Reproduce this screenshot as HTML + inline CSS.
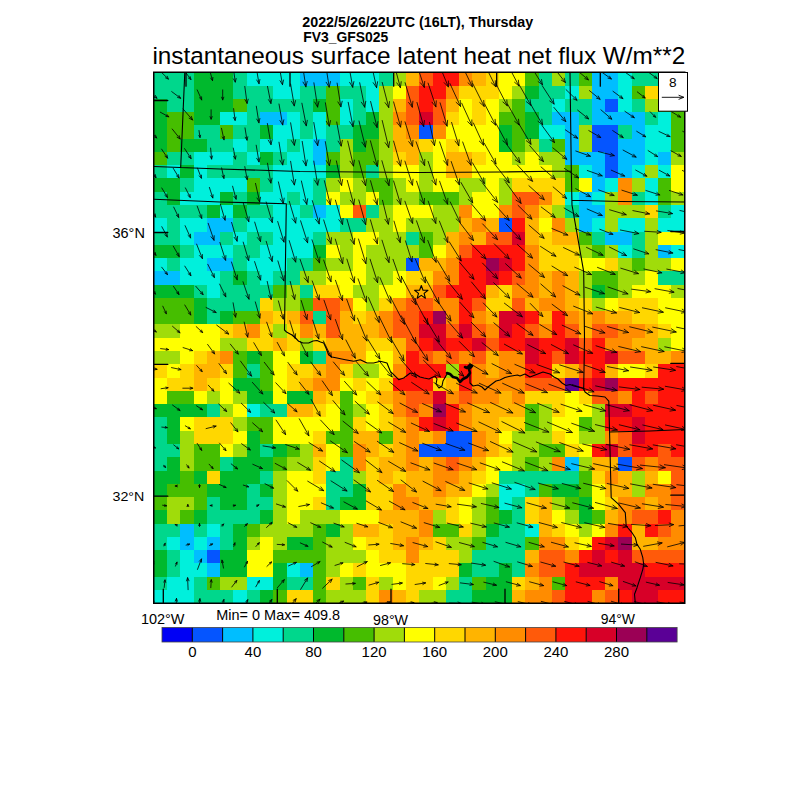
<!DOCTYPE html>
<html><head><meta charset="utf-8"><style>
html,body{margin:0;padding:0;background:#fff;}
svg{display:block;font-family:"Liberation Sans",sans-serif;}
</style></head><body>
<svg width="800" height="800" viewBox="0 0 800 800">
<rect x="0" y="0" width="800" height="800" fill="#fff"/>
<g shape-rendering="crispEdges">
<rect x="153.75" y="72.25" width="40.12" height="13.58" fill="#00d78c"/>
<rect x="193.57" y="72.25" width="40.12" height="13.58" fill="#00b92d"/>
<rect x="233.40" y="72.25" width="13.58" height="13.58" fill="#00d78c"/>
<rect x="246.68" y="72.25" width="53.40" height="13.58" fill="#00f0dc"/>
<rect x="299.77" y="72.25" width="40.12" height="13.58" fill="#00beff"/>
<rect x="339.60" y="72.25" width="40.12" height="13.58" fill="#00f0dc"/>
<rect x="379.43" y="72.25" width="13.58" height="13.58" fill="#00d78c"/>
<rect x="392.70" y="72.25" width="13.58" height="13.58" fill="#a0dc0a"/>
<rect x="405.98" y="72.25" width="13.58" height="13.58" fill="#ffb400"/>
<rect x="419.25" y="72.25" width="13.58" height="13.58" fill="#ff5a0a"/>
<rect x="432.53" y="72.25" width="26.85" height="13.58" fill="#ff140a"/>
<rect x="459.07" y="72.25" width="13.58" height="13.58" fill="#ff8c00"/>
<rect x="472.35" y="72.25" width="13.58" height="13.58" fill="#ffb400"/>
<rect x="485.62" y="72.25" width="13.58" height="13.58" fill="#ffd700"/>
<rect x="498.90" y="72.25" width="26.85" height="13.58" fill="#ffff00"/>
<rect x="525.45" y="72.25" width="13.58" height="13.58" fill="#46be00"/>
<rect x="538.73" y="72.25" width="13.58" height="13.58" fill="#00d78c"/>
<rect x="552.00" y="72.25" width="13.58" height="13.58" fill="#a0dc0a"/>
<rect x="565.28" y="72.25" width="13.58" height="13.58" fill="#00d78c"/>
<rect x="578.55" y="72.25" width="13.58" height="13.58" fill="#46be00"/>
<rect x="591.83" y="72.25" width="26.85" height="13.58" fill="#00beff"/>
<rect x="618.38" y="72.25" width="13.58" height="13.58" fill="#00f0dc"/>
<rect x="631.65" y="72.25" width="53.40" height="13.58" fill="#00d78c"/>
<rect x="153.75" y="85.53" width="40.12" height="13.58" fill="#00d78c"/>
<rect x="193.57" y="85.53" width="40.12" height="13.58" fill="#00b92d"/>
<rect x="233.40" y="85.53" width="40.12" height="13.58" fill="#00d78c"/>
<rect x="273.23" y="85.53" width="26.85" height="13.58" fill="#00f0dc"/>
<rect x="299.77" y="85.53" width="26.85" height="13.58" fill="#00d78c"/>
<rect x="326.33" y="85.53" width="13.58" height="13.58" fill="#46be00"/>
<rect x="339.60" y="85.53" width="26.85" height="13.58" fill="#00d78c"/>
<rect x="366.15" y="85.53" width="13.58" height="13.58" fill="#00f0dc"/>
<rect x="379.43" y="85.53" width="13.58" height="13.58" fill="#a0dc0a"/>
<rect x="392.70" y="85.53" width="13.58" height="13.58" fill="#ffff00"/>
<rect x="405.98" y="85.53" width="13.58" height="13.58" fill="#ff5a0a"/>
<rect x="419.25" y="85.53" width="26.85" height="13.58" fill="#ff140a"/>
<rect x="445.80" y="85.53" width="13.58" height="13.58" fill="#ff8c00"/>
<rect x="459.07" y="85.53" width="40.12" height="13.58" fill="#ffd700"/>
<rect x="498.90" y="85.53" width="13.58" height="13.58" fill="#ffff00"/>
<rect x="512.17" y="85.53" width="13.58" height="13.58" fill="#a0dc0a"/>
<rect x="525.45" y="85.53" width="13.58" height="13.58" fill="#00b92d"/>
<rect x="538.73" y="85.53" width="26.85" height="13.58" fill="#00d78c"/>
<rect x="565.28" y="85.53" width="13.58" height="13.58" fill="#00f0dc"/>
<rect x="578.55" y="85.53" width="13.58" height="13.58" fill="#a0dc0a"/>
<rect x="591.83" y="85.53" width="26.85" height="13.58" fill="#00beff"/>
<rect x="618.38" y="85.53" width="13.58" height="13.58" fill="#00f0dc"/>
<rect x="631.65" y="85.53" width="13.58" height="13.58" fill="#46be00"/>
<rect x="644.92" y="85.53" width="13.58" height="13.58" fill="#ffd700"/>
<rect x="658.20" y="85.53" width="26.85" height="13.58" fill="#00d78c"/>
<rect x="153.75" y="98.80" width="13.58" height="13.58" fill="#00b92d"/>
<rect x="167.03" y="98.80" width="26.85" height="13.58" fill="#00d78c"/>
<rect x="193.57" y="98.80" width="40.12" height="13.58" fill="#00b92d"/>
<rect x="233.40" y="98.80" width="13.58" height="13.58" fill="#46be00"/>
<rect x="246.68" y="98.80" width="66.67" height="13.58" fill="#00d78c"/>
<rect x="313.05" y="98.80" width="13.58" height="13.58" fill="#00b92d"/>
<rect x="326.33" y="98.80" width="13.58" height="13.58" fill="#46be00"/>
<rect x="339.60" y="98.80" width="13.58" height="13.58" fill="#00f0dc"/>
<rect x="352.88" y="98.80" width="13.58" height="13.58" fill="#00d78c"/>
<rect x="366.15" y="98.80" width="13.58" height="13.58" fill="#00f0dc"/>
<rect x="379.43" y="98.80" width="13.58" height="13.58" fill="#a0dc0a"/>
<rect x="392.70" y="98.80" width="13.58" height="13.58" fill="#ffb400"/>
<rect x="405.98" y="98.80" width="13.58" height="13.58" fill="#ff5a0a"/>
<rect x="419.25" y="98.80" width="13.58" height="13.58" fill="#ff140a"/>
<rect x="432.53" y="98.80" width="13.58" height="13.58" fill="#ff5a0a"/>
<rect x="445.80" y="98.80" width="13.58" height="13.58" fill="#ffb400"/>
<rect x="459.07" y="98.80" width="13.58" height="13.58" fill="#ffff00"/>
<rect x="472.35" y="98.80" width="13.58" height="13.58" fill="#ffd700"/>
<rect x="485.62" y="98.80" width="13.58" height="13.58" fill="#ffff00"/>
<rect x="498.90" y="98.80" width="13.58" height="13.58" fill="#a0dc0a"/>
<rect x="512.17" y="98.80" width="13.58" height="13.58" fill="#46be00"/>
<rect x="525.45" y="98.80" width="26.85" height="13.58" fill="#00d78c"/>
<rect x="552.00" y="98.80" width="13.58" height="13.58" fill="#00f0dc"/>
<rect x="565.28" y="98.80" width="26.85" height="13.58" fill="#00d78c"/>
<rect x="591.83" y="98.80" width="13.58" height="13.58" fill="#00beff"/>
<rect x="605.10" y="98.80" width="13.58" height="13.58" fill="#0555ff"/>
<rect x="618.38" y="98.80" width="13.58" height="13.58" fill="#00f0dc"/>
<rect x="631.65" y="98.80" width="13.58" height="13.58" fill="#00d78c"/>
<rect x="644.92" y="98.80" width="13.58" height="13.58" fill="#a0dc0a"/>
<rect x="658.20" y="98.80" width="26.85" height="13.58" fill="#46be00"/>
<rect x="153.75" y="112.08" width="13.58" height="13.58" fill="#00b92d"/>
<rect x="167.03" y="112.08" width="26.85" height="13.58" fill="#46be00"/>
<rect x="193.57" y="112.08" width="26.85" height="13.58" fill="#00b92d"/>
<rect x="220.12" y="112.08" width="26.85" height="13.58" fill="#00f0dc"/>
<rect x="246.68" y="112.08" width="13.58" height="13.58" fill="#00d78c"/>
<rect x="259.95" y="112.08" width="26.85" height="13.58" fill="#00beff"/>
<rect x="286.50" y="112.08" width="13.58" height="13.58" fill="#00f0dc"/>
<rect x="299.77" y="112.08" width="13.58" height="13.58" fill="#00d78c"/>
<rect x="313.05" y="112.08" width="13.58" height="13.58" fill="#00f0dc"/>
<rect x="326.33" y="112.08" width="13.58" height="13.58" fill="#46be00"/>
<rect x="339.60" y="112.08" width="13.58" height="13.58" fill="#00f0dc"/>
<rect x="352.88" y="112.08" width="13.58" height="13.58" fill="#00d78c"/>
<rect x="366.15" y="112.08" width="13.58" height="13.58" fill="#00b92d"/>
<rect x="379.43" y="112.08" width="13.58" height="13.58" fill="#a0dc0a"/>
<rect x="392.70" y="112.08" width="13.58" height="13.58" fill="#ff8c00"/>
<rect x="405.98" y="112.08" width="13.58" height="13.58" fill="#ff5a0a"/>
<rect x="419.25" y="112.08" width="13.58" height="13.58" fill="#d70028"/>
<rect x="432.53" y="112.08" width="13.58" height="13.58" fill="#ff5a0a"/>
<rect x="445.80" y="112.08" width="13.58" height="13.58" fill="#ffd700"/>
<rect x="459.07" y="112.08" width="13.58" height="13.58" fill="#ffff00"/>
<rect x="472.35" y="112.08" width="13.58" height="13.58" fill="#ffd700"/>
<rect x="485.62" y="112.08" width="13.58" height="13.58" fill="#ffff00"/>
<rect x="498.90" y="112.08" width="26.85" height="13.58" fill="#46be00"/>
<rect x="525.45" y="112.08" width="13.58" height="13.58" fill="#00b92d"/>
<rect x="538.73" y="112.08" width="13.58" height="13.58" fill="#00d78c"/>
<rect x="552.00" y="112.08" width="26.85" height="13.58" fill="#00beff"/>
<rect x="578.55" y="112.08" width="13.58" height="13.58" fill="#00d78c"/>
<rect x="591.83" y="112.08" width="53.40" height="13.58" fill="#00beff"/>
<rect x="644.92" y="112.08" width="13.58" height="13.58" fill="#00d78c"/>
<rect x="658.20" y="112.08" width="13.58" height="13.58" fill="#00f0dc"/>
<rect x="671.48" y="112.08" width="13.58" height="13.58" fill="#46be00"/>
<rect x="153.75" y="125.35" width="13.58" height="13.58" fill="#00b92d"/>
<rect x="167.03" y="125.35" width="26.85" height="13.58" fill="#46be00"/>
<rect x="193.57" y="125.35" width="26.85" height="13.58" fill="#00d78c"/>
<rect x="220.12" y="125.35" width="13.58" height="13.58" fill="#46be00"/>
<rect x="233.40" y="125.35" width="26.85" height="13.58" fill="#00d78c"/>
<rect x="259.95" y="125.35" width="13.58" height="13.58" fill="#00b92d"/>
<rect x="273.23" y="125.35" width="26.85" height="13.58" fill="#00f0dc"/>
<rect x="299.77" y="125.35" width="13.58" height="13.58" fill="#00d78c"/>
<rect x="313.05" y="125.35" width="13.58" height="13.58" fill="#00f0dc"/>
<rect x="326.33" y="125.35" width="26.85" height="13.58" fill="#00d78c"/>
<rect x="352.88" y="125.35" width="26.85" height="13.58" fill="#00b92d"/>
<rect x="379.43" y="125.35" width="13.58" height="13.58" fill="#a0dc0a"/>
<rect x="392.70" y="125.35" width="13.58" height="13.58" fill="#ffb400"/>
<rect x="405.98" y="125.35" width="13.58" height="13.58" fill="#ff8c00"/>
<rect x="419.25" y="125.35" width="13.58" height="13.58" fill="#0555ff"/>
<rect x="432.53" y="125.35" width="13.58" height="13.58" fill="#ff8c00"/>
<rect x="445.80" y="125.35" width="53.40" height="13.58" fill="#ffff00"/>
<rect x="498.90" y="125.35" width="13.58" height="13.58" fill="#00b92d"/>
<rect x="512.17" y="125.35" width="13.58" height="13.58" fill="#46be00"/>
<rect x="525.45" y="125.35" width="13.58" height="13.58" fill="#00b92d"/>
<rect x="538.73" y="125.35" width="26.85" height="13.58" fill="#00f0dc"/>
<rect x="565.28" y="125.35" width="13.58" height="13.58" fill="#00beff"/>
<rect x="578.55" y="125.35" width="13.58" height="13.58" fill="#a0dc0a"/>
<rect x="591.83" y="125.35" width="26.85" height="13.58" fill="#0555ff"/>
<rect x="618.38" y="125.35" width="13.58" height="13.58" fill="#00d78c"/>
<rect x="631.65" y="125.35" width="13.58" height="13.58" fill="#00beff"/>
<rect x="644.92" y="125.35" width="26.85" height="13.58" fill="#00f0dc"/>
<rect x="671.48" y="125.35" width="13.58" height="13.58" fill="#46be00"/>
<rect x="153.75" y="138.62" width="13.58" height="13.58" fill="#00b92d"/>
<rect x="167.03" y="138.62" width="13.58" height="13.58" fill="#46be00"/>
<rect x="180.30" y="138.62" width="26.85" height="13.58" fill="#00b92d"/>
<rect x="206.85" y="138.62" width="26.85" height="13.58" fill="#00d78c"/>
<rect x="233.40" y="138.62" width="13.58" height="13.58" fill="#00f0dc"/>
<rect x="246.68" y="138.62" width="13.58" height="13.58" fill="#00d78c"/>
<rect x="259.95" y="138.62" width="26.85" height="13.58" fill="#00f0dc"/>
<rect x="286.50" y="138.62" width="13.58" height="13.58" fill="#00d78c"/>
<rect x="299.77" y="138.62" width="13.58" height="13.58" fill="#00f0dc"/>
<rect x="313.05" y="138.62" width="13.58" height="13.58" fill="#00beff"/>
<rect x="326.33" y="138.62" width="13.58" height="13.58" fill="#00d78c"/>
<rect x="339.60" y="138.62" width="13.58" height="13.58" fill="#a0dc0a"/>
<rect x="352.88" y="138.62" width="13.58" height="13.58" fill="#00b92d"/>
<rect x="366.15" y="138.62" width="13.58" height="13.58" fill="#46be00"/>
<rect x="379.43" y="138.62" width="13.58" height="13.58" fill="#a0dc0a"/>
<rect x="392.70" y="138.62" width="26.85" height="13.58" fill="#ffb400"/>
<rect x="419.25" y="138.62" width="13.58" height="13.58" fill="#ffd700"/>
<rect x="432.53" y="138.62" width="13.58" height="13.58" fill="#ffff00"/>
<rect x="445.80" y="138.62" width="13.58" height="13.58" fill="#ffd700"/>
<rect x="459.07" y="138.62" width="40.12" height="13.58" fill="#ffff00"/>
<rect x="498.90" y="138.62" width="13.58" height="13.58" fill="#00b92d"/>
<rect x="512.17" y="138.62" width="13.58" height="13.58" fill="#46be00"/>
<rect x="525.45" y="138.62" width="13.58" height="13.58" fill="#a0dc0a"/>
<rect x="538.73" y="138.62" width="13.58" height="13.58" fill="#00d78c"/>
<rect x="552.00" y="138.62" width="13.58" height="13.58" fill="#46be00"/>
<rect x="565.28" y="138.62" width="13.58" height="13.58" fill="#00beff"/>
<rect x="578.55" y="138.62" width="13.58" height="13.58" fill="#a0dc0a"/>
<rect x="591.83" y="138.62" width="26.85" height="13.58" fill="#0555ff"/>
<rect x="618.38" y="138.62" width="26.85" height="13.58" fill="#00beff"/>
<rect x="644.92" y="138.62" width="26.85" height="13.58" fill="#00f0dc"/>
<rect x="671.48" y="138.62" width="13.58" height="13.58" fill="#46be00"/>
<rect x="153.75" y="151.90" width="13.58" height="13.58" fill="#46be00"/>
<rect x="167.03" y="151.90" width="26.85" height="13.58" fill="#00d78c"/>
<rect x="193.57" y="151.90" width="40.12" height="13.58" fill="#00f0dc"/>
<rect x="233.40" y="151.90" width="13.58" height="13.58" fill="#00d78c"/>
<rect x="246.68" y="151.90" width="13.58" height="13.58" fill="#00f0dc"/>
<rect x="259.95" y="151.90" width="13.58" height="13.58" fill="#00b92d"/>
<rect x="273.23" y="151.90" width="13.58" height="13.58" fill="#00d78c"/>
<rect x="286.50" y="151.90" width="26.85" height="13.58" fill="#00f0dc"/>
<rect x="313.05" y="151.90" width="13.58" height="13.58" fill="#00beff"/>
<rect x="326.33" y="151.90" width="13.58" height="13.58" fill="#46be00"/>
<rect x="339.60" y="151.90" width="13.58" height="13.58" fill="#a0dc0a"/>
<rect x="352.88" y="151.90" width="26.85" height="13.58" fill="#46be00"/>
<rect x="379.43" y="151.90" width="13.58" height="13.58" fill="#a0dc0a"/>
<rect x="392.70" y="151.90" width="13.58" height="13.58" fill="#ffd700"/>
<rect x="405.98" y="151.90" width="13.58" height="13.58" fill="#ffb400"/>
<rect x="419.25" y="151.90" width="13.58" height="13.58" fill="#a0dc0a"/>
<rect x="432.53" y="151.90" width="13.58" height="13.58" fill="#ffff00"/>
<rect x="445.80" y="151.90" width="26.85" height="13.58" fill="#ffb400"/>
<rect x="472.35" y="151.90" width="13.58" height="13.58" fill="#ffd700"/>
<rect x="485.62" y="151.90" width="26.85" height="13.58" fill="#ffff00"/>
<rect x="512.17" y="151.90" width="13.58" height="13.58" fill="#a0dc0a"/>
<rect x="525.45" y="151.90" width="13.58" height="13.58" fill="#ffff00"/>
<rect x="538.73" y="151.90" width="26.85" height="13.58" fill="#a0dc0a"/>
<rect x="565.28" y="151.90" width="40.12" height="13.58" fill="#00beff"/>
<rect x="605.10" y="151.90" width="13.58" height="13.58" fill="#0555ff"/>
<rect x="618.38" y="151.90" width="26.85" height="13.58" fill="#00beff"/>
<rect x="644.92" y="151.90" width="13.58" height="13.58" fill="#00f0dc"/>
<rect x="658.20" y="151.90" width="13.58" height="13.58" fill="#00beff"/>
<rect x="671.48" y="151.90" width="13.58" height="13.58" fill="#a0dc0a"/>
<rect x="153.75" y="165.18" width="13.58" height="13.58" fill="#00d78c"/>
<rect x="167.03" y="165.18" width="13.58" height="13.58" fill="#00f0dc"/>
<rect x="180.30" y="165.18" width="13.58" height="13.58" fill="#00b92d"/>
<rect x="193.57" y="165.18" width="13.58" height="13.58" fill="#00f0dc"/>
<rect x="206.85" y="165.18" width="66.67" height="13.58" fill="#00d78c"/>
<rect x="273.23" y="165.18" width="53.40" height="13.58" fill="#00f0dc"/>
<rect x="326.33" y="165.18" width="13.58" height="13.58" fill="#00b92d"/>
<rect x="339.60" y="165.18" width="13.58" height="13.58" fill="#a0dc0a"/>
<rect x="352.88" y="165.18" width="13.58" height="13.58" fill="#46be00"/>
<rect x="366.15" y="165.18" width="13.58" height="13.58" fill="#00d78c"/>
<rect x="379.43" y="165.18" width="13.58" height="13.58" fill="#a0dc0a"/>
<rect x="392.70" y="165.18" width="26.85" height="13.58" fill="#ffff00"/>
<rect x="419.25" y="165.18" width="13.58" height="13.58" fill="#a0dc0a"/>
<rect x="432.53" y="165.18" width="13.58" height="13.58" fill="#ffff00"/>
<rect x="445.80" y="165.18" width="26.85" height="13.58" fill="#ffb400"/>
<rect x="472.35" y="165.18" width="79.95" height="13.58" fill="#ffff00"/>
<rect x="552.00" y="165.18" width="13.58" height="13.58" fill="#a0dc0a"/>
<rect x="565.28" y="165.18" width="13.58" height="13.58" fill="#46be00"/>
<rect x="578.55" y="165.18" width="13.58" height="13.58" fill="#00f0dc"/>
<rect x="591.83" y="165.18" width="13.58" height="13.58" fill="#00beff"/>
<rect x="605.10" y="165.18" width="13.58" height="13.58" fill="#0555ff"/>
<rect x="618.38" y="165.18" width="13.58" height="13.58" fill="#00beff"/>
<rect x="631.65" y="165.18" width="13.58" height="13.58" fill="#00f0dc"/>
<rect x="644.92" y="165.18" width="13.58" height="13.58" fill="#a0dc0a"/>
<rect x="658.20" y="165.18" width="13.58" height="13.58" fill="#00f0dc"/>
<rect x="671.48" y="165.18" width="13.58" height="13.58" fill="#ffff00"/>
<rect x="153.75" y="178.45" width="26.85" height="13.58" fill="#00b92d"/>
<rect x="180.30" y="178.45" width="13.58" height="13.58" fill="#00d78c"/>
<rect x="193.57" y="178.45" width="53.40" height="13.58" fill="#00f0dc"/>
<rect x="246.68" y="178.45" width="13.58" height="13.58" fill="#46be00"/>
<rect x="259.95" y="178.45" width="13.58" height="13.58" fill="#00d78c"/>
<rect x="273.23" y="178.45" width="40.12" height="13.58" fill="#00f0dc"/>
<rect x="313.05" y="178.45" width="13.58" height="13.58" fill="#00d78c"/>
<rect x="326.33" y="178.45" width="13.58" height="13.58" fill="#a0dc0a"/>
<rect x="339.60" y="178.45" width="13.58" height="13.58" fill="#ffff00"/>
<rect x="352.88" y="178.45" width="13.58" height="13.58" fill="#a0dc0a"/>
<rect x="366.15" y="178.45" width="26.85" height="13.58" fill="#46be00"/>
<rect x="392.70" y="178.45" width="13.58" height="13.58" fill="#a0dc0a"/>
<rect x="405.98" y="178.45" width="13.58" height="13.58" fill="#ffff00"/>
<rect x="419.25" y="178.45" width="13.58" height="13.58" fill="#a0dc0a"/>
<rect x="432.53" y="178.45" width="26.85" height="13.58" fill="#ffff00"/>
<rect x="459.07" y="178.45" width="26.85" height="13.58" fill="#a0dc0a"/>
<rect x="485.62" y="178.45" width="13.58" height="13.58" fill="#ffff00"/>
<rect x="498.90" y="178.45" width="13.58" height="13.58" fill="#a0dc0a"/>
<rect x="512.17" y="178.45" width="53.40" height="13.58" fill="#ffd700"/>
<rect x="565.28" y="178.45" width="13.58" height="13.58" fill="#46be00"/>
<rect x="578.55" y="178.45" width="13.58" height="13.58" fill="#ffff00"/>
<rect x="591.83" y="178.45" width="13.58" height="13.58" fill="#00beff"/>
<rect x="605.10" y="178.45" width="13.58" height="13.58" fill="#00f0dc"/>
<rect x="618.38" y="178.45" width="13.58" height="13.58" fill="#ff8c00"/>
<rect x="631.65" y="178.45" width="13.58" height="13.58" fill="#a0dc0a"/>
<rect x="644.92" y="178.45" width="13.58" height="13.58" fill="#00f0dc"/>
<rect x="658.20" y="178.45" width="13.58" height="13.58" fill="#46be00"/>
<rect x="671.48" y="178.45" width="13.58" height="13.58" fill="#ffff00"/>
<rect x="153.75" y="191.73" width="13.58" height="13.58" fill="#00d78c"/>
<rect x="167.03" y="191.73" width="13.58" height="13.58" fill="#00b92d"/>
<rect x="180.30" y="191.73" width="40.12" height="13.58" fill="#00f0dc"/>
<rect x="220.12" y="191.73" width="13.58" height="13.58" fill="#00b92d"/>
<rect x="233.40" y="191.73" width="13.58" height="13.58" fill="#00d78c"/>
<rect x="246.68" y="191.73" width="13.58" height="13.58" fill="#00b92d"/>
<rect x="259.95" y="191.73" width="26.85" height="13.58" fill="#00f0dc"/>
<rect x="286.50" y="191.73" width="13.58" height="13.58" fill="#00d78c"/>
<rect x="299.77" y="191.73" width="13.58" height="13.58" fill="#00f0dc"/>
<rect x="313.05" y="191.73" width="13.58" height="13.58" fill="#00d78c"/>
<rect x="326.33" y="191.73" width="13.58" height="13.58" fill="#ffff00"/>
<rect x="339.60" y="191.73" width="26.85" height="13.58" fill="#a0dc0a"/>
<rect x="366.15" y="191.73" width="13.58" height="13.58" fill="#ffff00"/>
<rect x="379.43" y="191.73" width="13.58" height="13.58" fill="#46be00"/>
<rect x="392.70" y="191.73" width="26.85" height="13.58" fill="#a0dc0a"/>
<rect x="419.25" y="191.73" width="40.12" height="13.58" fill="#46be00"/>
<rect x="459.07" y="191.73" width="13.58" height="13.58" fill="#a0dc0a"/>
<rect x="472.35" y="191.73" width="26.85" height="13.58" fill="#ffff00"/>
<rect x="498.90" y="191.73" width="13.58" height="13.58" fill="#a0dc0a"/>
<rect x="512.17" y="191.73" width="26.85" height="13.58" fill="#ff5a0a"/>
<rect x="538.73" y="191.73" width="13.58" height="13.58" fill="#ff8c00"/>
<rect x="552.00" y="191.73" width="13.58" height="13.58" fill="#ffd700"/>
<rect x="565.28" y="191.73" width="13.58" height="13.58" fill="#00f0dc"/>
<rect x="578.55" y="191.73" width="13.58" height="13.58" fill="#00beff"/>
<rect x="591.83" y="191.73" width="13.58" height="13.58" fill="#00f0dc"/>
<rect x="605.10" y="191.73" width="13.58" height="13.58" fill="#a0dc0a"/>
<rect x="618.38" y="191.73" width="13.58" height="13.58" fill="#ff8c00"/>
<rect x="631.65" y="191.73" width="13.58" height="13.58" fill="#00d78c"/>
<rect x="644.92" y="191.73" width="13.58" height="13.58" fill="#00f0dc"/>
<rect x="658.20" y="191.73" width="13.58" height="13.58" fill="#46be00"/>
<rect x="671.48" y="191.73" width="13.58" height="13.58" fill="#a0dc0a"/>
<rect x="153.75" y="205.00" width="53.40" height="13.58" fill="#00d78c"/>
<rect x="206.85" y="205.00" width="13.58" height="13.58" fill="#00b92d"/>
<rect x="220.12" y="205.00" width="13.58" height="13.58" fill="#00f0dc"/>
<rect x="233.40" y="205.00" width="13.58" height="13.58" fill="#00b92d"/>
<rect x="246.68" y="205.00" width="26.85" height="13.58" fill="#00d78c"/>
<rect x="273.23" y="205.00" width="26.85" height="13.58" fill="#00f0dc"/>
<rect x="299.77" y="205.00" width="13.58" height="13.58" fill="#00d78c"/>
<rect x="313.05" y="205.00" width="13.58" height="13.58" fill="#00beff"/>
<rect x="326.33" y="205.00" width="13.58" height="13.58" fill="#00f0dc"/>
<rect x="339.60" y="205.00" width="13.58" height="13.58" fill="#ffff00"/>
<rect x="352.88" y="205.00" width="13.58" height="13.58" fill="#ff5a0a"/>
<rect x="366.15" y="205.00" width="13.58" height="13.58" fill="#00d78c"/>
<rect x="379.43" y="205.00" width="13.58" height="13.58" fill="#a0dc0a"/>
<rect x="392.70" y="205.00" width="40.12" height="13.58" fill="#ffff00"/>
<rect x="432.53" y="205.00" width="26.85" height="13.58" fill="#a0dc0a"/>
<rect x="459.07" y="205.00" width="13.58" height="13.58" fill="#ff8c00"/>
<rect x="472.35" y="205.00" width="26.85" height="13.58" fill="#ffff00"/>
<rect x="498.90" y="205.00" width="13.58" height="13.58" fill="#ff8c00"/>
<rect x="512.17" y="205.00" width="13.58" height="13.58" fill="#ff5a0a"/>
<rect x="525.45" y="205.00" width="13.58" height="13.58" fill="#ff8c00"/>
<rect x="538.73" y="205.00" width="13.58" height="13.58" fill="#ffd700"/>
<rect x="552.00" y="205.00" width="13.58" height="13.58" fill="#a0dc0a"/>
<rect x="565.28" y="205.00" width="13.58" height="13.58" fill="#00d78c"/>
<rect x="578.55" y="205.00" width="26.85" height="13.58" fill="#00beff"/>
<rect x="605.10" y="205.00" width="40.12" height="13.58" fill="#a0dc0a"/>
<rect x="644.92" y="205.00" width="13.58" height="13.58" fill="#ffd700"/>
<rect x="658.20" y="205.00" width="13.58" height="13.58" fill="#00d78c"/>
<rect x="671.48" y="205.00" width="13.58" height="13.58" fill="#00f0dc"/>
<rect x="153.75" y="218.28" width="13.58" height="13.58" fill="#00f0dc"/>
<rect x="167.03" y="218.28" width="13.58" height="13.58" fill="#00d78c"/>
<rect x="180.30" y="218.28" width="26.85" height="13.58" fill="#00f0dc"/>
<rect x="206.85" y="218.28" width="26.85" height="13.58" fill="#00beff"/>
<rect x="233.40" y="218.28" width="13.58" height="13.58" fill="#00d78c"/>
<rect x="246.68" y="218.28" width="93.22" height="13.58" fill="#00f0dc"/>
<rect x="339.60" y="218.28" width="26.85" height="13.58" fill="#00d78c"/>
<rect x="366.15" y="218.28" width="26.85" height="13.58" fill="#a0dc0a"/>
<rect x="392.70" y="218.28" width="13.58" height="13.58" fill="#ffff00"/>
<rect x="405.98" y="218.28" width="53.40" height="13.58" fill="#a0dc0a"/>
<rect x="459.07" y="218.28" width="13.58" height="13.58" fill="#ffb400"/>
<rect x="472.35" y="218.28" width="13.58" height="13.58" fill="#ff8c00"/>
<rect x="485.62" y="218.28" width="13.58" height="13.58" fill="#ffb400"/>
<rect x="498.90" y="218.28" width="13.58" height="13.58" fill="#0555ff"/>
<rect x="512.17" y="218.28" width="13.58" height="13.58" fill="#ff140a"/>
<rect x="525.45" y="218.28" width="13.58" height="13.58" fill="#ffb400"/>
<rect x="538.73" y="218.28" width="13.58" height="13.58" fill="#ffff00"/>
<rect x="552.00" y="218.28" width="13.58" height="13.58" fill="#ff8c00"/>
<rect x="565.28" y="218.28" width="13.58" height="13.58" fill="#a0dc0a"/>
<rect x="578.55" y="218.28" width="13.58" height="13.58" fill="#00beff"/>
<rect x="591.83" y="218.28" width="13.58" height="13.58" fill="#00f0dc"/>
<rect x="605.10" y="218.28" width="13.58" height="13.58" fill="#a0dc0a"/>
<rect x="618.38" y="218.28" width="26.85" height="13.58" fill="#00f0dc"/>
<rect x="644.92" y="218.28" width="13.58" height="13.58" fill="#a0dc0a"/>
<rect x="658.20" y="218.28" width="26.85" height="13.58" fill="#00f0dc"/>
<rect x="153.75" y="231.55" width="26.85" height="13.58" fill="#00d78c"/>
<rect x="180.30" y="231.55" width="13.58" height="13.58" fill="#00f0dc"/>
<rect x="193.57" y="231.55" width="26.85" height="13.58" fill="#00beff"/>
<rect x="220.12" y="231.55" width="13.58" height="13.58" fill="#00d78c"/>
<rect x="233.40" y="231.55" width="13.58" height="13.58" fill="#00f0dc"/>
<rect x="246.68" y="231.55" width="26.85" height="13.58" fill="#00d78c"/>
<rect x="273.23" y="231.55" width="40.12" height="13.58" fill="#00f0dc"/>
<rect x="313.05" y="231.55" width="13.58" height="13.58" fill="#00d78c"/>
<rect x="326.33" y="231.55" width="26.85" height="13.58" fill="#a0dc0a"/>
<rect x="352.88" y="231.55" width="26.85" height="13.58" fill="#ffff00"/>
<rect x="379.43" y="231.55" width="26.85" height="13.58" fill="#a0dc0a"/>
<rect x="405.98" y="231.55" width="13.58" height="13.58" fill="#00d78c"/>
<rect x="419.25" y="231.55" width="13.58" height="13.58" fill="#46be00"/>
<rect x="432.53" y="231.55" width="13.58" height="13.58" fill="#a0dc0a"/>
<rect x="445.80" y="231.55" width="13.58" height="13.58" fill="#ffb400"/>
<rect x="459.07" y="231.55" width="13.58" height="13.58" fill="#ff8c00"/>
<rect x="472.35" y="231.55" width="13.58" height="13.58" fill="#ffb400"/>
<rect x="485.62" y="231.55" width="26.85" height="13.58" fill="#ff5a0a"/>
<rect x="512.17" y="231.55" width="13.58" height="13.58" fill="#d70028"/>
<rect x="525.45" y="231.55" width="13.58" height="13.58" fill="#ffb400"/>
<rect x="538.73" y="231.55" width="13.58" height="13.58" fill="#ffd700"/>
<rect x="552.00" y="231.55" width="26.85" height="13.58" fill="#ffb400"/>
<rect x="578.55" y="231.55" width="13.58" height="13.58" fill="#46be00"/>
<rect x="591.83" y="231.55" width="13.58" height="13.58" fill="#00d78c"/>
<rect x="605.10" y="231.55" width="26.85" height="13.58" fill="#00beff"/>
<rect x="631.65" y="231.55" width="13.58" height="13.58" fill="#00d78c"/>
<rect x="644.92" y="231.55" width="13.58" height="13.58" fill="#a0dc0a"/>
<rect x="658.20" y="231.55" width="26.85" height="13.58" fill="#ffff00"/>
<rect x="153.75" y="244.83" width="26.85" height="13.58" fill="#00b92d"/>
<rect x="180.30" y="244.83" width="13.58" height="13.58" fill="#00d78c"/>
<rect x="193.57" y="244.83" width="40.12" height="13.58" fill="#00f0dc"/>
<rect x="233.40" y="244.83" width="26.85" height="13.58" fill="#00d78c"/>
<rect x="259.95" y="244.83" width="53.40" height="13.58" fill="#00f0dc"/>
<rect x="313.05" y="244.83" width="13.58" height="13.58" fill="#00b92d"/>
<rect x="326.33" y="244.83" width="13.58" height="13.58" fill="#ffff00"/>
<rect x="339.60" y="244.83" width="13.58" height="13.58" fill="#a0dc0a"/>
<rect x="352.88" y="244.83" width="13.58" height="13.58" fill="#ffff00"/>
<rect x="366.15" y="244.83" width="53.40" height="13.58" fill="#a0dc0a"/>
<rect x="419.25" y="244.83" width="13.58" height="13.58" fill="#46be00"/>
<rect x="432.53" y="244.83" width="13.58" height="13.58" fill="#ffff00"/>
<rect x="445.80" y="244.83" width="13.58" height="13.58" fill="#ffb400"/>
<rect x="459.07" y="244.83" width="13.58" height="13.58" fill="#ff5a0a"/>
<rect x="472.35" y="244.83" width="53.40" height="13.58" fill="#ff140a"/>
<rect x="525.45" y="244.83" width="13.58" height="13.58" fill="#ff8c00"/>
<rect x="538.73" y="244.83" width="40.12" height="13.58" fill="#ffd700"/>
<rect x="578.55" y="244.83" width="13.58" height="13.58" fill="#a0dc0a"/>
<rect x="591.83" y="244.83" width="13.58" height="13.58" fill="#46be00"/>
<rect x="605.10" y="244.83" width="13.58" height="13.58" fill="#a0dc0a"/>
<rect x="618.38" y="244.83" width="13.58" height="13.58" fill="#00f0dc"/>
<rect x="631.65" y="244.83" width="13.58" height="13.58" fill="#00d78c"/>
<rect x="644.92" y="244.83" width="13.58" height="13.58" fill="#a0dc0a"/>
<rect x="658.20" y="244.83" width="13.58" height="13.58" fill="#00beff"/>
<rect x="671.48" y="244.83" width="13.58" height="13.58" fill="#00f0dc"/>
<rect x="153.75" y="258.10" width="13.58" height="13.58" fill="#00f0dc"/>
<rect x="167.03" y="258.10" width="13.58" height="13.58" fill="#00d78c"/>
<rect x="180.30" y="258.10" width="26.85" height="13.58" fill="#00f0dc"/>
<rect x="206.85" y="258.10" width="26.85" height="13.58" fill="#00beff"/>
<rect x="233.40" y="258.10" width="13.58" height="13.58" fill="#00d78c"/>
<rect x="246.68" y="258.10" width="40.12" height="13.58" fill="#00f0dc"/>
<rect x="286.50" y="258.10" width="26.85" height="13.58" fill="#00d78c"/>
<rect x="313.05" y="258.10" width="13.58" height="13.58" fill="#46be00"/>
<rect x="326.33" y="258.10" width="26.85" height="13.58" fill="#a0dc0a"/>
<rect x="352.88" y="258.10" width="13.58" height="13.58" fill="#ffff00"/>
<rect x="366.15" y="258.10" width="40.12" height="13.58" fill="#a0dc0a"/>
<rect x="405.98" y="258.10" width="13.58" height="13.58" fill="#0555ff"/>
<rect x="419.25" y="258.10" width="26.85" height="13.58" fill="#ffb400"/>
<rect x="445.80" y="258.10" width="13.58" height="13.58" fill="#ff8c00"/>
<rect x="459.07" y="258.10" width="26.85" height="13.58" fill="#ff140a"/>
<rect x="485.62" y="258.10" width="13.58" height="13.58" fill="#9b0055"/>
<rect x="498.90" y="258.10" width="13.58" height="13.58" fill="#d70028"/>
<rect x="512.17" y="258.10" width="13.58" height="13.58" fill="#ff140a"/>
<rect x="525.45" y="258.10" width="13.58" height="13.58" fill="#ff8c00"/>
<rect x="538.73" y="258.10" width="40.12" height="13.58" fill="#ffd700"/>
<rect x="578.55" y="258.10" width="26.85" height="13.58" fill="#ffff00"/>
<rect x="605.10" y="258.10" width="13.58" height="13.58" fill="#ffd700"/>
<rect x="618.38" y="258.10" width="13.58" height="13.58" fill="#a0dc0a"/>
<rect x="631.65" y="258.10" width="13.58" height="13.58" fill="#46be00"/>
<rect x="644.92" y="258.10" width="26.85" height="13.58" fill="#a0dc0a"/>
<rect x="671.48" y="258.10" width="13.58" height="13.58" fill="#ffff00"/>
<rect x="153.75" y="271.38" width="26.85" height="13.58" fill="#00beff"/>
<rect x="180.30" y="271.38" width="40.12" height="13.58" fill="#00f0dc"/>
<rect x="220.12" y="271.38" width="13.58" height="13.58" fill="#00d78c"/>
<rect x="233.40" y="271.38" width="13.58" height="13.58" fill="#00b92d"/>
<rect x="246.68" y="271.38" width="13.58" height="13.58" fill="#00d78c"/>
<rect x="259.95" y="271.38" width="13.58" height="13.58" fill="#00f0dc"/>
<rect x="273.23" y="271.38" width="26.85" height="13.58" fill="#00d78c"/>
<rect x="299.77" y="271.38" width="26.85" height="13.58" fill="#a0dc0a"/>
<rect x="326.33" y="271.38" width="40.12" height="13.58" fill="#ffff00"/>
<rect x="366.15" y="271.38" width="26.85" height="13.58" fill="#a0dc0a"/>
<rect x="392.70" y="271.38" width="13.58" height="13.58" fill="#ffff00"/>
<rect x="405.98" y="271.38" width="26.85" height="13.58" fill="#ffd700"/>
<rect x="432.53" y="271.38" width="26.85" height="13.58" fill="#ff8c00"/>
<rect x="459.07" y="271.38" width="26.85" height="13.58" fill="#ff140a"/>
<rect x="485.62" y="271.38" width="13.58" height="13.58" fill="#d70028"/>
<rect x="498.90" y="271.38" width="13.58" height="13.58" fill="#ff140a"/>
<rect x="512.17" y="271.38" width="13.58" height="13.58" fill="#ff5a0a"/>
<rect x="525.45" y="271.38" width="13.58" height="13.58" fill="#ff8c00"/>
<rect x="538.73" y="271.38" width="13.58" height="13.58" fill="#ffb400"/>
<rect x="552.00" y="271.38" width="13.58" height="13.58" fill="#ff8c00"/>
<rect x="565.28" y="271.38" width="13.58" height="13.58" fill="#ffb400"/>
<rect x="578.55" y="271.38" width="13.58" height="13.58" fill="#a0dc0a"/>
<rect x="591.83" y="271.38" width="26.85" height="13.58" fill="#46be00"/>
<rect x="618.38" y="271.38" width="26.85" height="13.58" fill="#a0dc0a"/>
<rect x="644.92" y="271.38" width="13.58" height="13.58" fill="#ffff00"/>
<rect x="658.20" y="271.38" width="26.85" height="13.58" fill="#00d78c"/>
<rect x="153.75" y="284.65" width="40.12" height="13.58" fill="#00b92d"/>
<rect x="193.57" y="284.65" width="13.58" height="13.58" fill="#00d78c"/>
<rect x="206.85" y="284.65" width="13.58" height="13.58" fill="#00f0dc"/>
<rect x="220.12" y="284.65" width="53.40" height="13.58" fill="#00d78c"/>
<rect x="273.23" y="284.65" width="13.58" height="13.58" fill="#46be00"/>
<rect x="286.50" y="284.65" width="13.58" height="13.58" fill="#a0dc0a"/>
<rect x="299.77" y="284.65" width="13.58" height="13.58" fill="#00d78c"/>
<rect x="313.05" y="284.65" width="26.85" height="13.58" fill="#ffd700"/>
<rect x="339.60" y="284.65" width="13.58" height="13.58" fill="#ffff00"/>
<rect x="352.88" y="284.65" width="26.85" height="13.58" fill="#a0dc0a"/>
<rect x="379.43" y="284.65" width="26.85" height="13.58" fill="#ffff00"/>
<rect x="405.98" y="284.65" width="26.85" height="13.58" fill="#ffb400"/>
<rect x="432.53" y="284.65" width="13.58" height="13.58" fill="#ff5a0a"/>
<rect x="445.80" y="284.65" width="40.12" height="13.58" fill="#ff140a"/>
<rect x="485.62" y="284.65" width="13.58" height="13.58" fill="#ffb400"/>
<rect x="498.90" y="284.65" width="13.58" height="13.58" fill="#ffd700"/>
<rect x="512.17" y="284.65" width="26.85" height="13.58" fill="#ff8c00"/>
<rect x="538.73" y="284.65" width="13.58" height="13.58" fill="#ffb400"/>
<rect x="552.00" y="284.65" width="13.58" height="13.58" fill="#ff8c00"/>
<rect x="565.28" y="284.65" width="13.58" height="13.58" fill="#ffb400"/>
<rect x="578.55" y="284.65" width="13.58" height="13.58" fill="#a0dc0a"/>
<rect x="591.83" y="284.65" width="13.58" height="13.58" fill="#00b92d"/>
<rect x="605.10" y="284.65" width="13.58" height="13.58" fill="#46be00"/>
<rect x="618.38" y="284.65" width="13.58" height="13.58" fill="#a0dc0a"/>
<rect x="631.65" y="284.65" width="40.12" height="13.58" fill="#ffff00"/>
<rect x="671.48" y="284.65" width="13.58" height="13.58" fill="#a0dc0a"/>
<rect x="153.75" y="297.93" width="40.12" height="13.58" fill="#46be00"/>
<rect x="193.57" y="297.93" width="13.58" height="13.58" fill="#00b92d"/>
<rect x="206.85" y="297.93" width="53.40" height="13.58" fill="#00d78c"/>
<rect x="259.95" y="297.93" width="13.58" height="13.58" fill="#ffd700"/>
<rect x="273.23" y="297.93" width="26.85" height="13.58" fill="#a0dc0a"/>
<rect x="299.77" y="297.93" width="13.58" height="13.58" fill="#46be00"/>
<rect x="313.05" y="297.93" width="26.85" height="13.58" fill="#ff5a0a"/>
<rect x="339.60" y="297.93" width="13.58" height="13.58" fill="#ff8c00"/>
<rect x="352.88" y="297.93" width="13.58" height="13.58" fill="#ffff00"/>
<rect x="366.15" y="297.93" width="13.58" height="13.58" fill="#a0dc0a"/>
<rect x="379.43" y="297.93" width="13.58" height="13.58" fill="#ffd700"/>
<rect x="392.70" y="297.93" width="13.58" height="13.58" fill="#ff8c00"/>
<rect x="405.98" y="297.93" width="26.85" height="13.58" fill="#ff5a0a"/>
<rect x="432.53" y="297.93" width="26.85" height="13.58" fill="#ff8c00"/>
<rect x="459.07" y="297.93" width="13.58" height="13.58" fill="#ff140a"/>
<rect x="472.35" y="297.93" width="13.58" height="13.58" fill="#ff5a0a"/>
<rect x="485.62" y="297.93" width="26.85" height="13.58" fill="#ffd700"/>
<rect x="512.17" y="297.93" width="13.58" height="13.58" fill="#ff5a0a"/>
<rect x="525.45" y="297.93" width="13.58" height="13.58" fill="#ffb400"/>
<rect x="538.73" y="297.93" width="26.85" height="13.58" fill="#ff8c00"/>
<rect x="565.28" y="297.93" width="13.58" height="13.58" fill="#ffb400"/>
<rect x="578.55" y="297.93" width="13.58" height="13.58" fill="#ffd700"/>
<rect x="591.83" y="297.93" width="13.58" height="13.58" fill="#a0dc0a"/>
<rect x="605.10" y="297.93" width="13.58" height="13.58" fill="#ffff00"/>
<rect x="618.38" y="297.93" width="40.12" height="13.58" fill="#ffd700"/>
<rect x="658.20" y="297.93" width="26.85" height="13.58" fill="#ffff00"/>
<rect x="153.75" y="311.20" width="40.12" height="13.58" fill="#46be00"/>
<rect x="193.57" y="311.20" width="13.58" height="13.58" fill="#00b92d"/>
<rect x="206.85" y="311.20" width="13.58" height="13.58" fill="#00d78c"/>
<rect x="220.12" y="311.20" width="13.58" height="13.58" fill="#00b92d"/>
<rect x="233.40" y="311.20" width="26.85" height="13.58" fill="#46be00"/>
<rect x="259.95" y="311.20" width="13.58" height="13.58" fill="#ffb400"/>
<rect x="273.23" y="311.20" width="13.58" height="13.58" fill="#ffd700"/>
<rect x="286.50" y="311.20" width="13.58" height="13.58" fill="#ffb400"/>
<rect x="299.77" y="311.20" width="13.58" height="13.58" fill="#ff5a0a"/>
<rect x="313.05" y="311.20" width="13.58" height="13.58" fill="#00d78c"/>
<rect x="326.33" y="311.20" width="13.58" height="13.58" fill="#ff5a0a"/>
<rect x="339.60" y="311.20" width="13.58" height="13.58" fill="#ffb400"/>
<rect x="352.88" y="311.20" width="13.58" height="13.58" fill="#ffd700"/>
<rect x="366.15" y="311.20" width="13.58" height="13.58" fill="#ffb400"/>
<rect x="379.43" y="311.20" width="13.58" height="13.58" fill="#ff8c00"/>
<rect x="392.70" y="311.20" width="26.85" height="13.58" fill="#ff5a0a"/>
<rect x="419.25" y="311.20" width="13.58" height="13.58" fill="#ff140a"/>
<rect x="432.53" y="311.20" width="13.58" height="13.58" fill="#9b0055"/>
<rect x="445.80" y="311.20" width="13.58" height="13.58" fill="#ff8c00"/>
<rect x="459.07" y="311.20" width="13.58" height="13.58" fill="#ff140a"/>
<rect x="472.35" y="311.20" width="13.58" height="13.58" fill="#ff8c00"/>
<rect x="485.62" y="311.20" width="13.58" height="13.58" fill="#ffb400"/>
<rect x="498.90" y="311.20" width="26.85" height="13.58" fill="#d70028"/>
<rect x="525.45" y="311.20" width="13.58" height="13.58" fill="#ff140a"/>
<rect x="538.73" y="311.20" width="13.58" height="13.58" fill="#ffb400"/>
<rect x="552.00" y="311.20" width="13.58" height="13.58" fill="#ff140a"/>
<rect x="565.28" y="311.20" width="13.58" height="13.58" fill="#ff8c00"/>
<rect x="578.55" y="311.20" width="13.58" height="13.58" fill="#ffb400"/>
<rect x="591.83" y="311.20" width="13.58" height="13.58" fill="#ff8c00"/>
<rect x="605.10" y="311.20" width="26.85" height="13.58" fill="#ffb400"/>
<rect x="631.65" y="311.20" width="26.85" height="13.58" fill="#ffd700"/>
<rect x="658.20" y="311.20" width="26.85" height="13.58" fill="#ffff00"/>
<rect x="153.75" y="324.48" width="26.85" height="13.58" fill="#a0dc0a"/>
<rect x="180.30" y="324.48" width="40.12" height="13.58" fill="#ffff00"/>
<rect x="220.12" y="324.48" width="13.58" height="13.58" fill="#ffd700"/>
<rect x="233.40" y="324.48" width="13.58" height="13.58" fill="#ffb400"/>
<rect x="246.68" y="324.48" width="13.58" height="13.58" fill="#ff8c00"/>
<rect x="259.95" y="324.48" width="13.58" height="13.58" fill="#ffd700"/>
<rect x="273.23" y="324.48" width="13.58" height="13.58" fill="#a0dc0a"/>
<rect x="286.50" y="324.48" width="13.58" height="13.58" fill="#ffd700"/>
<rect x="299.77" y="324.48" width="13.58" height="13.58" fill="#ff8c00"/>
<rect x="313.05" y="324.48" width="13.58" height="13.58" fill="#ffb400"/>
<rect x="326.33" y="324.48" width="13.58" height="13.58" fill="#ff5a0a"/>
<rect x="339.60" y="324.48" width="40.12" height="13.58" fill="#ffb400"/>
<rect x="379.43" y="324.48" width="13.58" height="13.58" fill="#ff8c00"/>
<rect x="392.70" y="324.48" width="26.85" height="13.58" fill="#ff5a0a"/>
<rect x="419.25" y="324.48" width="26.85" height="13.58" fill="#d70028"/>
<rect x="445.80" y="324.48" width="13.58" height="13.58" fill="#ff5a0a"/>
<rect x="459.07" y="324.48" width="13.58" height="13.58" fill="#d70028"/>
<rect x="472.35" y="324.48" width="13.58" height="13.58" fill="#ff5a0a"/>
<rect x="485.62" y="324.48" width="13.58" height="13.58" fill="#ff8c00"/>
<rect x="498.90" y="324.48" width="13.58" height="13.58" fill="#d70028"/>
<rect x="512.17" y="324.48" width="13.58" height="13.58" fill="#ff140a"/>
<rect x="525.45" y="324.48" width="13.58" height="13.58" fill="#ff5a0a"/>
<rect x="538.73" y="324.48" width="13.58" height="13.58" fill="#ff8c00"/>
<rect x="552.00" y="324.48" width="13.58" height="13.58" fill="#ff140a"/>
<rect x="565.28" y="324.48" width="13.58" height="13.58" fill="#ff5a0a"/>
<rect x="578.55" y="324.48" width="13.58" height="13.58" fill="#ffb400"/>
<rect x="591.83" y="324.48" width="26.85" height="13.58" fill="#ff5a0a"/>
<rect x="618.38" y="324.48" width="26.85" height="13.58" fill="#ff8c00"/>
<rect x="644.92" y="324.48" width="13.58" height="13.58" fill="#ffb400"/>
<rect x="658.20" y="324.48" width="13.58" height="13.58" fill="#ffd700"/>
<rect x="671.48" y="324.48" width="13.58" height="13.58" fill="#ffff00"/>
<rect x="153.75" y="337.75" width="66.67" height="13.58" fill="#ffff00"/>
<rect x="220.12" y="337.75" width="26.85" height="13.58" fill="#a0dc0a"/>
<rect x="246.68" y="337.75" width="26.85" height="13.58" fill="#ffd700"/>
<rect x="273.23" y="337.75" width="13.58" height="13.58" fill="#ffb400"/>
<rect x="286.50" y="337.75" width="13.58" height="13.58" fill="#ffd700"/>
<rect x="299.77" y="337.75" width="13.58" height="13.58" fill="#a0dc0a"/>
<rect x="313.05" y="337.75" width="13.58" height="13.58" fill="#ffd700"/>
<rect x="326.33" y="337.75" width="40.12" height="13.58" fill="#ffb400"/>
<rect x="366.15" y="337.75" width="26.85" height="13.58" fill="#ffd700"/>
<rect x="392.70" y="337.75" width="13.58" height="13.58" fill="#ffb400"/>
<rect x="405.98" y="337.75" width="13.58" height="13.58" fill="#ff5a0a"/>
<rect x="419.25" y="337.75" width="13.58" height="13.58" fill="#ff140a"/>
<rect x="432.53" y="337.75" width="13.58" height="13.58" fill="#d70028"/>
<rect x="445.80" y="337.75" width="26.85" height="13.58" fill="#ff140a"/>
<rect x="472.35" y="337.75" width="13.58" height="13.58" fill="#d70028"/>
<rect x="485.62" y="337.75" width="13.58" height="13.58" fill="#ff5a0a"/>
<rect x="498.90" y="337.75" width="26.85" height="13.58" fill="#ff140a"/>
<rect x="525.45" y="337.75" width="13.58" height="13.58" fill="#d70028"/>
<rect x="538.73" y="337.75" width="26.85" height="13.58" fill="#ff140a"/>
<rect x="565.28" y="337.75" width="13.58" height="13.58" fill="#d70028"/>
<rect x="578.55" y="337.75" width="13.58" height="13.58" fill="#ff5a0a"/>
<rect x="591.83" y="337.75" width="13.58" height="13.58" fill="#ff140a"/>
<rect x="605.10" y="337.75" width="26.85" height="13.58" fill="#ff8c00"/>
<rect x="631.65" y="337.75" width="26.85" height="13.58" fill="#ffb400"/>
<rect x="658.20" y="337.75" width="13.58" height="13.58" fill="#a0dc0a"/>
<rect x="671.48" y="337.75" width="13.58" height="13.58" fill="#ffff00"/>
<rect x="153.75" y="351.03" width="26.85" height="13.58" fill="#a0dc0a"/>
<rect x="180.30" y="351.03" width="13.58" height="13.58" fill="#ffff00"/>
<rect x="193.57" y="351.03" width="13.58" height="13.58" fill="#ffd700"/>
<rect x="206.85" y="351.03" width="13.58" height="13.58" fill="#ffb400"/>
<rect x="220.12" y="351.03" width="13.58" height="13.58" fill="#ff8c00"/>
<rect x="233.40" y="351.03" width="13.58" height="13.58" fill="#46be00"/>
<rect x="246.68" y="351.03" width="13.58" height="13.58" fill="#00b92d"/>
<rect x="259.95" y="351.03" width="13.58" height="13.58" fill="#46be00"/>
<rect x="273.23" y="351.03" width="26.85" height="13.58" fill="#ffff00"/>
<rect x="299.77" y="351.03" width="13.58" height="13.58" fill="#00b92d"/>
<rect x="313.05" y="351.03" width="13.58" height="13.58" fill="#00d78c"/>
<rect x="326.33" y="351.03" width="26.85" height="13.58" fill="#ff8c00"/>
<rect x="352.88" y="351.03" width="13.58" height="13.58" fill="#ffb400"/>
<rect x="366.15" y="351.03" width="26.85" height="13.58" fill="#ffff00"/>
<rect x="392.70" y="351.03" width="13.58" height="13.58" fill="#ffb400"/>
<rect x="405.98" y="351.03" width="13.58" height="13.58" fill="#ff140a"/>
<rect x="419.25" y="351.03" width="13.58" height="13.58" fill="#ff5a0a"/>
<rect x="432.53" y="351.03" width="13.58" height="13.58" fill="#ff8c00"/>
<rect x="445.80" y="351.03" width="13.58" height="13.58" fill="#ff5a0a"/>
<rect x="459.07" y="351.03" width="13.58" height="13.58" fill="#ff8c00"/>
<rect x="472.35" y="351.03" width="13.58" height="13.58" fill="#ff5a0a"/>
<rect x="485.62" y="351.03" width="13.58" height="13.58" fill="#ffb400"/>
<rect x="498.90" y="351.03" width="26.85" height="13.58" fill="#ff8c00"/>
<rect x="525.45" y="351.03" width="13.58" height="13.58" fill="#d70028"/>
<rect x="538.73" y="351.03" width="13.58" height="13.58" fill="#ff140a"/>
<rect x="552.00" y="351.03" width="13.58" height="13.58" fill="#ff5a0a"/>
<rect x="565.28" y="351.03" width="13.58" height="13.58" fill="#d70028"/>
<rect x="578.55" y="351.03" width="26.85" height="13.58" fill="#ff140a"/>
<rect x="605.10" y="351.03" width="13.58" height="13.58" fill="#d70028"/>
<rect x="618.38" y="351.03" width="26.85" height="13.58" fill="#ff5a0a"/>
<rect x="644.92" y="351.03" width="26.85" height="13.58" fill="#ffb400"/>
<rect x="671.48" y="351.03" width="13.58" height="13.58" fill="#ff8c00"/>
<rect x="153.75" y="364.30" width="13.58" height="13.58" fill="#ffd700"/>
<rect x="167.03" y="364.30" width="13.58" height="13.58" fill="#ffff00"/>
<rect x="180.30" y="364.30" width="13.58" height="13.58" fill="#ffd700"/>
<rect x="193.57" y="364.30" width="26.85" height="13.58" fill="#ffb400"/>
<rect x="220.12" y="364.30" width="13.58" height="13.58" fill="#ffd700"/>
<rect x="233.40" y="364.30" width="13.58" height="13.58" fill="#46be00"/>
<rect x="246.68" y="364.30" width="13.58" height="13.58" fill="#00d78c"/>
<rect x="259.95" y="364.30" width="13.58" height="13.58" fill="#46be00"/>
<rect x="273.23" y="364.30" width="13.58" height="13.58" fill="#ffff00"/>
<rect x="286.50" y="364.30" width="26.85" height="13.58" fill="#ffd700"/>
<rect x="313.05" y="364.30" width="13.58" height="13.58" fill="#ffb400"/>
<rect x="326.33" y="364.30" width="13.58" height="13.58" fill="#ff8c00"/>
<rect x="339.60" y="364.30" width="13.58" height="13.58" fill="#ffd700"/>
<rect x="352.88" y="364.30" width="26.85" height="13.58" fill="#a0dc0a"/>
<rect x="379.43" y="364.30" width="13.58" height="13.58" fill="#ffff00"/>
<rect x="392.70" y="364.30" width="13.58" height="13.58" fill="#ff8c00"/>
<rect x="405.98" y="364.30" width="40.12" height="13.58" fill="#ff140a"/>
<rect x="445.80" y="364.30" width="13.58" height="13.58" fill="#a0dc0a"/>
<rect x="459.07" y="364.30" width="13.58" height="13.58" fill="#ff140a"/>
<rect x="472.35" y="364.30" width="13.58" height="13.58" fill="#ff8c00"/>
<rect x="485.62" y="364.30" width="13.58" height="13.58" fill="#ffb400"/>
<rect x="498.90" y="364.30" width="26.85" height="13.58" fill="#ff8c00"/>
<rect x="525.45" y="364.30" width="26.85" height="13.58" fill="#ff140a"/>
<rect x="552.00" y="364.30" width="13.58" height="13.58" fill="#ffd700"/>
<rect x="565.28" y="364.30" width="13.58" height="13.58" fill="#ffb400"/>
<rect x="578.55" y="364.30" width="13.58" height="13.58" fill="#ff5a0a"/>
<rect x="591.83" y="364.30" width="13.58" height="13.58" fill="#ff140a"/>
<rect x="605.10" y="364.30" width="13.58" height="13.58" fill="#ffb400"/>
<rect x="618.38" y="364.30" width="26.85" height="13.58" fill="#ffff00"/>
<rect x="644.92" y="364.30" width="13.58" height="13.58" fill="#ffd700"/>
<rect x="658.20" y="364.30" width="26.85" height="13.58" fill="#ff140a"/>
<rect x="153.75" y="377.57" width="13.58" height="13.58" fill="#ffff00"/>
<rect x="167.03" y="377.57" width="26.85" height="13.58" fill="#ffd700"/>
<rect x="193.57" y="377.57" width="13.58" height="13.58" fill="#ffb400"/>
<rect x="206.85" y="377.57" width="13.58" height="13.58" fill="#ffd700"/>
<rect x="220.12" y="377.57" width="13.58" height="13.58" fill="#ffff00"/>
<rect x="233.40" y="377.57" width="26.85" height="13.58" fill="#00b92d"/>
<rect x="259.95" y="377.57" width="13.58" height="13.58" fill="#46be00"/>
<rect x="273.23" y="377.57" width="13.58" height="13.58" fill="#ffff00"/>
<rect x="286.50" y="377.57" width="13.58" height="13.58" fill="#ffd700"/>
<rect x="299.77" y="377.57" width="13.58" height="13.58" fill="#ffb400"/>
<rect x="313.05" y="377.57" width="26.85" height="13.58" fill="#ff8c00"/>
<rect x="339.60" y="377.57" width="13.58" height="13.58" fill="#ffff00"/>
<rect x="352.88" y="377.57" width="13.58" height="13.58" fill="#ffd700"/>
<rect x="366.15" y="377.57" width="13.58" height="13.58" fill="#ffff00"/>
<rect x="379.43" y="377.57" width="13.58" height="13.58" fill="#ffd700"/>
<rect x="392.70" y="377.57" width="40.12" height="13.58" fill="#ff140a"/>
<rect x="432.53" y="377.57" width="13.58" height="13.58" fill="#ffd700"/>
<rect x="445.80" y="377.57" width="13.58" height="13.58" fill="#ffb400"/>
<rect x="459.07" y="377.57" width="13.58" height="13.58" fill="#ff140a"/>
<rect x="472.35" y="377.57" width="53.40" height="13.58" fill="#ff8c00"/>
<rect x="525.45" y="377.57" width="40.12" height="13.58" fill="#ff5a0a"/>
<rect x="565.28" y="377.57" width="13.58" height="13.58" fill="#5a0096"/>
<rect x="578.55" y="377.57" width="13.58" height="13.58" fill="#ff140a"/>
<rect x="591.83" y="377.57" width="13.58" height="13.58" fill="#d70028"/>
<rect x="605.10" y="377.57" width="13.58" height="13.58" fill="#9b0055"/>
<rect x="618.38" y="377.57" width="66.67" height="13.58" fill="#ff140a"/>
<rect x="153.75" y="390.85" width="13.58" height="13.58" fill="#ffff00"/>
<rect x="167.03" y="390.85" width="26.85" height="13.58" fill="#46be00"/>
<rect x="193.57" y="390.85" width="13.58" height="13.58" fill="#ffff00"/>
<rect x="206.85" y="390.85" width="13.58" height="13.58" fill="#a0dc0a"/>
<rect x="220.12" y="390.85" width="13.58" height="13.58" fill="#ffff00"/>
<rect x="233.40" y="390.85" width="13.58" height="13.58" fill="#a0dc0a"/>
<rect x="246.68" y="390.85" width="26.85" height="13.58" fill="#00b92d"/>
<rect x="273.23" y="390.85" width="13.58" height="13.58" fill="#ffff00"/>
<rect x="286.50" y="390.85" width="26.85" height="13.58" fill="#00b92d"/>
<rect x="313.05" y="390.85" width="13.58" height="13.58" fill="#ffb400"/>
<rect x="326.33" y="390.85" width="13.58" height="13.58" fill="#ffd700"/>
<rect x="339.60" y="390.85" width="13.58" height="13.58" fill="#46be00"/>
<rect x="352.88" y="390.85" width="13.58" height="13.58" fill="#ffff00"/>
<rect x="366.15" y="390.85" width="13.58" height="13.58" fill="#ffd700"/>
<rect x="379.43" y="390.85" width="13.58" height="13.58" fill="#ffb400"/>
<rect x="392.70" y="390.85" width="13.58" height="13.58" fill="#ff8c00"/>
<rect x="405.98" y="390.85" width="26.85" height="13.58" fill="#ff5a0a"/>
<rect x="432.53" y="390.85" width="13.58" height="13.58" fill="#d70028"/>
<rect x="445.80" y="390.85" width="13.58" height="13.58" fill="#ff8c00"/>
<rect x="459.07" y="390.85" width="13.58" height="13.58" fill="#ff5a0a"/>
<rect x="472.35" y="390.85" width="26.85" height="13.58" fill="#ff8c00"/>
<rect x="498.90" y="390.85" width="13.58" height="13.58" fill="#ffb400"/>
<rect x="512.17" y="390.85" width="13.58" height="13.58" fill="#ff8c00"/>
<rect x="525.45" y="390.85" width="40.12" height="13.58" fill="#ffd700"/>
<rect x="565.28" y="390.85" width="13.58" height="13.58" fill="#ffff00"/>
<rect x="578.55" y="390.85" width="13.58" height="13.58" fill="#ffd700"/>
<rect x="591.83" y="390.85" width="26.85" height="13.58" fill="#ff5a0a"/>
<rect x="618.38" y="390.85" width="13.58" height="13.58" fill="#ff8c00"/>
<rect x="631.65" y="390.85" width="13.58" height="13.58" fill="#ff140a"/>
<rect x="644.92" y="390.85" width="13.58" height="13.58" fill="#ff5a0a"/>
<rect x="658.20" y="390.85" width="26.85" height="13.58" fill="#ff140a"/>
<rect x="153.75" y="404.12" width="53.40" height="13.58" fill="#00b92d"/>
<rect x="206.85" y="404.12" width="13.58" height="13.58" fill="#00d78c"/>
<rect x="220.12" y="404.12" width="13.58" height="13.58" fill="#a0dc0a"/>
<rect x="233.40" y="404.12" width="13.58" height="13.58" fill="#ffff00"/>
<rect x="246.68" y="404.12" width="13.58" height="13.58" fill="#00f0dc"/>
<rect x="259.95" y="404.12" width="26.85" height="13.58" fill="#00d78c"/>
<rect x="286.50" y="404.12" width="26.85" height="13.58" fill="#ffb400"/>
<rect x="313.05" y="404.12" width="13.58" height="13.58" fill="#ffd700"/>
<rect x="326.33" y="404.12" width="13.58" height="13.58" fill="#ffff00"/>
<rect x="339.60" y="404.12" width="13.58" height="13.58" fill="#46be00"/>
<rect x="352.88" y="404.12" width="13.58" height="13.58" fill="#a0dc0a"/>
<rect x="366.15" y="404.12" width="13.58" height="13.58" fill="#ffff00"/>
<rect x="379.43" y="404.12" width="13.58" height="13.58" fill="#ffd700"/>
<rect x="392.70" y="404.12" width="13.58" height="13.58" fill="#ff8c00"/>
<rect x="405.98" y="404.12" width="13.58" height="13.58" fill="#ff5a0a"/>
<rect x="419.25" y="404.12" width="13.58" height="13.58" fill="#ff8c00"/>
<rect x="432.53" y="404.12" width="13.58" height="13.58" fill="#9b0055"/>
<rect x="445.80" y="404.12" width="13.58" height="13.58" fill="#ff140a"/>
<rect x="459.07" y="404.12" width="13.58" height="13.58" fill="#ff8c00"/>
<rect x="472.35" y="404.12" width="53.40" height="13.58" fill="#ffb400"/>
<rect x="525.45" y="404.12" width="13.58" height="13.58" fill="#46be00"/>
<rect x="538.73" y="404.12" width="13.58" height="13.58" fill="#a0dc0a"/>
<rect x="552.00" y="404.12" width="13.58" height="13.58" fill="#ffd700"/>
<rect x="565.28" y="404.12" width="26.85" height="13.58" fill="#ffff00"/>
<rect x="591.83" y="404.12" width="13.58" height="13.58" fill="#a0dc0a"/>
<rect x="605.10" y="404.12" width="26.85" height="13.58" fill="#d70028"/>
<rect x="631.65" y="404.12" width="53.40" height="13.58" fill="#ff140a"/>
<rect x="153.75" y="417.40" width="13.58" height="13.58" fill="#00d78c"/>
<rect x="167.03" y="417.40" width="13.58" height="13.58" fill="#00b92d"/>
<rect x="180.30" y="417.40" width="13.58" height="13.58" fill="#ffff00"/>
<rect x="193.57" y="417.40" width="40.12" height="13.58" fill="#ffd700"/>
<rect x="233.40" y="417.40" width="13.58" height="13.58" fill="#a0dc0a"/>
<rect x="246.68" y="417.40" width="26.85" height="13.58" fill="#46be00"/>
<rect x="273.23" y="417.40" width="66.67" height="13.58" fill="#ffff00"/>
<rect x="339.60" y="417.40" width="13.58" height="13.58" fill="#46be00"/>
<rect x="352.88" y="417.40" width="13.58" height="13.58" fill="#ffd700"/>
<rect x="366.15" y="417.40" width="13.58" height="13.58" fill="#ffff00"/>
<rect x="379.43" y="417.40" width="13.58" height="13.58" fill="#ffd700"/>
<rect x="392.70" y="417.40" width="13.58" height="13.58" fill="#ffb400"/>
<rect x="405.98" y="417.40" width="13.58" height="13.58" fill="#ff8c00"/>
<rect x="419.25" y="417.40" width="13.58" height="13.58" fill="#ff140a"/>
<rect x="432.53" y="417.40" width="13.58" height="13.58" fill="#d70028"/>
<rect x="445.80" y="417.40" width="13.58" height="13.58" fill="#ff140a"/>
<rect x="459.07" y="417.40" width="13.58" height="13.58" fill="#ff8c00"/>
<rect x="472.35" y="417.40" width="26.85" height="13.58" fill="#ffb400"/>
<rect x="498.90" y="417.40" width="26.85" height="13.58" fill="#ffd700"/>
<rect x="525.45" y="417.40" width="13.58" height="13.58" fill="#46be00"/>
<rect x="538.73" y="417.40" width="13.58" height="13.58" fill="#a0dc0a"/>
<rect x="552.00" y="417.40" width="26.85" height="13.58" fill="#ffff00"/>
<rect x="578.55" y="417.40" width="13.58" height="13.58" fill="#46be00"/>
<rect x="591.83" y="417.40" width="13.58" height="13.58" fill="#a0dc0a"/>
<rect x="605.10" y="417.40" width="26.85" height="13.58" fill="#ff140a"/>
<rect x="631.65" y="417.40" width="13.58" height="13.58" fill="#d70028"/>
<rect x="644.92" y="417.40" width="40.12" height="13.58" fill="#ff140a"/>
<rect x="153.75" y="430.68" width="13.58" height="13.58" fill="#00d78c"/>
<rect x="167.03" y="430.68" width="13.58" height="13.58" fill="#00b92d"/>
<rect x="180.30" y="430.68" width="13.58" height="13.58" fill="#a0dc0a"/>
<rect x="193.57" y="430.68" width="40.12" height="13.58" fill="#ffd700"/>
<rect x="233.40" y="430.68" width="13.58" height="13.58" fill="#ffff00"/>
<rect x="246.68" y="430.68" width="13.58" height="13.58" fill="#00b92d"/>
<rect x="259.95" y="430.68" width="13.58" height="13.58" fill="#46be00"/>
<rect x="273.23" y="430.68" width="40.12" height="13.58" fill="#ffff00"/>
<rect x="313.05" y="430.68" width="13.58" height="13.58" fill="#ffd700"/>
<rect x="326.33" y="430.68" width="26.85" height="13.58" fill="#46be00"/>
<rect x="352.88" y="430.68" width="26.85" height="13.58" fill="#ffb400"/>
<rect x="379.43" y="430.68" width="13.58" height="13.58" fill="#46be00"/>
<rect x="392.70" y="430.68" width="13.58" height="13.58" fill="#ffb400"/>
<rect x="405.98" y="430.68" width="13.58" height="13.58" fill="#ff8c00"/>
<rect x="419.25" y="430.68" width="13.58" height="13.58" fill="#ffb400"/>
<rect x="432.53" y="430.68" width="13.58" height="13.58" fill="#ff8c00"/>
<rect x="445.80" y="430.68" width="26.85" height="13.58" fill="#0555ff"/>
<rect x="472.35" y="430.68" width="13.58" height="13.58" fill="#ff8c00"/>
<rect x="485.62" y="430.68" width="13.58" height="13.58" fill="#ffb400"/>
<rect x="498.90" y="430.68" width="13.58" height="13.58" fill="#ffff00"/>
<rect x="512.17" y="430.68" width="40.12" height="13.58" fill="#a0dc0a"/>
<rect x="552.00" y="430.68" width="13.58" height="13.58" fill="#ffd700"/>
<rect x="565.28" y="430.68" width="13.58" height="13.58" fill="#ffff00"/>
<rect x="578.55" y="430.68" width="26.85" height="13.58" fill="#a0dc0a"/>
<rect x="605.10" y="430.68" width="13.58" height="13.58" fill="#ff8c00"/>
<rect x="618.38" y="430.68" width="13.58" height="13.58" fill="#ff5a0a"/>
<rect x="631.65" y="430.68" width="13.58" height="13.58" fill="#d70028"/>
<rect x="644.92" y="430.68" width="40.12" height="13.58" fill="#ff140a"/>
<rect x="153.75" y="443.95" width="26.85" height="13.58" fill="#00d78c"/>
<rect x="180.30" y="443.95" width="13.58" height="13.58" fill="#a0dc0a"/>
<rect x="193.57" y="443.95" width="26.85" height="13.58" fill="#46be00"/>
<rect x="220.12" y="443.95" width="13.58" height="13.58" fill="#ffff00"/>
<rect x="233.40" y="443.95" width="13.58" height="13.58" fill="#a0dc0a"/>
<rect x="246.68" y="443.95" width="13.58" height="13.58" fill="#00b92d"/>
<rect x="259.95" y="443.95" width="13.58" height="13.58" fill="#00d78c"/>
<rect x="273.23" y="443.95" width="13.58" height="13.58" fill="#00b92d"/>
<rect x="286.50" y="443.95" width="13.58" height="13.58" fill="#46be00"/>
<rect x="299.77" y="443.95" width="13.58" height="13.58" fill="#a0dc0a"/>
<rect x="313.05" y="443.95" width="13.58" height="13.58" fill="#ffb400"/>
<rect x="326.33" y="443.95" width="13.58" height="13.58" fill="#ffff00"/>
<rect x="339.60" y="443.95" width="13.58" height="13.58" fill="#46be00"/>
<rect x="352.88" y="443.95" width="13.58" height="13.58" fill="#ff8c00"/>
<rect x="366.15" y="443.95" width="13.58" height="13.58" fill="#ffb400"/>
<rect x="379.43" y="443.95" width="13.58" height="13.58" fill="#ffd700"/>
<rect x="392.70" y="443.95" width="13.58" height="13.58" fill="#ffb400"/>
<rect x="405.98" y="443.95" width="13.58" height="13.58" fill="#ff8c00"/>
<rect x="419.25" y="443.95" width="53.40" height="13.58" fill="#0555ff"/>
<rect x="472.35" y="443.95" width="13.58" height="13.58" fill="#ff8c00"/>
<rect x="485.62" y="443.95" width="13.58" height="13.58" fill="#ffb400"/>
<rect x="498.90" y="443.95" width="13.58" height="13.58" fill="#ffd700"/>
<rect x="512.17" y="443.95" width="26.85" height="13.58" fill="#a0dc0a"/>
<rect x="538.73" y="443.95" width="26.85" height="13.58" fill="#46be00"/>
<rect x="565.28" y="443.95" width="13.58" height="13.58" fill="#ffd700"/>
<rect x="578.55" y="443.95" width="13.58" height="13.58" fill="#ffff00"/>
<rect x="591.83" y="443.95" width="13.58" height="13.58" fill="#ff140a"/>
<rect x="605.10" y="443.95" width="13.58" height="13.58" fill="#d70028"/>
<rect x="618.38" y="443.95" width="13.58" height="13.58" fill="#ff5a0a"/>
<rect x="631.65" y="443.95" width="26.85" height="13.58" fill="#ff140a"/>
<rect x="658.20" y="443.95" width="13.58" height="13.58" fill="#ff5a0a"/>
<rect x="671.48" y="443.95" width="13.58" height="13.58" fill="#ff140a"/>
<rect x="153.75" y="457.23" width="13.58" height="13.58" fill="#00d78c"/>
<rect x="167.03" y="457.23" width="13.58" height="13.58" fill="#00b92d"/>
<rect x="180.30" y="457.23" width="13.58" height="13.58" fill="#a0dc0a"/>
<rect x="193.57" y="457.23" width="26.85" height="13.58" fill="#46be00"/>
<rect x="220.12" y="457.23" width="13.58" height="13.58" fill="#00d78c"/>
<rect x="233.40" y="457.23" width="40.12" height="13.58" fill="#00b92d"/>
<rect x="273.23" y="457.23" width="13.58" height="13.58" fill="#46be00"/>
<rect x="286.50" y="457.23" width="26.85" height="13.58" fill="#a0dc0a"/>
<rect x="313.05" y="457.23" width="13.58" height="13.58" fill="#ffd700"/>
<rect x="326.33" y="457.23" width="13.58" height="13.58" fill="#ffff00"/>
<rect x="339.60" y="457.23" width="13.58" height="13.58" fill="#00d78c"/>
<rect x="352.88" y="457.23" width="13.58" height="13.58" fill="#ff8c00"/>
<rect x="366.15" y="457.23" width="13.58" height="13.58" fill="#ffd700"/>
<rect x="379.43" y="457.23" width="26.85" height="13.58" fill="#ffb400"/>
<rect x="405.98" y="457.23" width="13.58" height="13.58" fill="#ff8c00"/>
<rect x="419.25" y="457.23" width="13.58" height="13.58" fill="#ffb400"/>
<rect x="432.53" y="457.23" width="13.58" height="13.58" fill="#ff8c00"/>
<rect x="445.80" y="457.23" width="13.58" height="13.58" fill="#ff5a0a"/>
<rect x="459.07" y="457.23" width="13.58" height="13.58" fill="#ff8c00"/>
<rect x="472.35" y="457.23" width="13.58" height="13.58" fill="#ffb400"/>
<rect x="485.62" y="457.23" width="26.85" height="13.58" fill="#ffff00"/>
<rect x="512.17" y="457.23" width="13.58" height="13.58" fill="#a0dc0a"/>
<rect x="525.45" y="457.23" width="13.58" height="13.58" fill="#46be00"/>
<rect x="538.73" y="457.23" width="13.58" height="13.58" fill="#a0dc0a"/>
<rect x="552.00" y="457.23" width="13.58" height="13.58" fill="#ff8c00"/>
<rect x="565.28" y="457.23" width="13.58" height="13.58" fill="#00beff"/>
<rect x="578.55" y="457.23" width="13.58" height="13.58" fill="#a0dc0a"/>
<rect x="591.83" y="457.23" width="26.85" height="13.58" fill="#ffb400"/>
<rect x="618.38" y="457.23" width="13.58" height="13.58" fill="#0555ff"/>
<rect x="631.65" y="457.23" width="13.58" height="13.58" fill="#ff5a0a"/>
<rect x="644.92" y="457.23" width="13.58" height="13.58" fill="#ff8c00"/>
<rect x="658.20" y="457.23" width="26.85" height="13.58" fill="#ff5a0a"/>
<rect x="153.75" y="470.50" width="26.85" height="13.58" fill="#00b92d"/>
<rect x="180.30" y="470.50" width="13.58" height="13.58" fill="#46be00"/>
<rect x="193.57" y="470.50" width="13.58" height="13.58" fill="#00b92d"/>
<rect x="206.85" y="470.50" width="13.58" height="13.58" fill="#ffd700"/>
<rect x="220.12" y="470.50" width="40.12" height="13.58" fill="#00b92d"/>
<rect x="259.95" y="470.50" width="13.58" height="13.58" fill="#00d78c"/>
<rect x="273.23" y="470.50" width="13.58" height="13.58" fill="#a0dc0a"/>
<rect x="286.50" y="470.50" width="26.85" height="13.58" fill="#ffff00"/>
<rect x="313.05" y="470.50" width="13.58" height="13.58" fill="#ffd700"/>
<rect x="326.33" y="470.50" width="26.85" height="13.58" fill="#00d78c"/>
<rect x="352.88" y="470.50" width="13.58" height="13.58" fill="#a0dc0a"/>
<rect x="366.15" y="470.50" width="13.58" height="13.58" fill="#ffd700"/>
<rect x="379.43" y="470.50" width="13.58" height="13.58" fill="#ffb400"/>
<rect x="392.70" y="470.50" width="13.58" height="13.58" fill="#ffd700"/>
<rect x="405.98" y="470.50" width="26.85" height="13.58" fill="#ffb400"/>
<rect x="432.53" y="470.50" width="26.85" height="13.58" fill="#ff8c00"/>
<rect x="459.07" y="470.50" width="13.58" height="13.58" fill="#ffb400"/>
<rect x="472.35" y="470.50" width="13.58" height="13.58" fill="#ffd700"/>
<rect x="485.62" y="470.50" width="13.58" height="13.58" fill="#ffff00"/>
<rect x="498.90" y="470.50" width="79.95" height="13.58" fill="#00d78c"/>
<rect x="578.55" y="470.50" width="13.58" height="13.58" fill="#46be00"/>
<rect x="591.83" y="470.50" width="13.58" height="13.58" fill="#ffd700"/>
<rect x="605.10" y="470.50" width="13.58" height="13.58" fill="#ff8c00"/>
<rect x="618.38" y="470.50" width="13.58" height="13.58" fill="#ffb400"/>
<rect x="631.65" y="470.50" width="13.58" height="13.58" fill="#a0dc0a"/>
<rect x="644.92" y="470.50" width="13.58" height="13.58" fill="#ffb400"/>
<rect x="658.20" y="470.50" width="13.58" height="13.58" fill="#ffff00"/>
<rect x="671.48" y="470.50" width="13.58" height="13.58" fill="#ff5a0a"/>
<rect x="153.75" y="483.78" width="13.58" height="13.58" fill="#00b92d"/>
<rect x="167.03" y="483.78" width="40.12" height="13.58" fill="#46be00"/>
<rect x="206.85" y="483.78" width="40.12" height="13.58" fill="#00b92d"/>
<rect x="246.68" y="483.78" width="13.58" height="13.58" fill="#00d78c"/>
<rect x="259.95" y="483.78" width="13.58" height="13.58" fill="#00b92d"/>
<rect x="273.23" y="483.78" width="13.58" height="13.58" fill="#a0dc0a"/>
<rect x="286.50" y="483.78" width="40.12" height="13.58" fill="#ffff00"/>
<rect x="326.33" y="483.78" width="26.85" height="13.58" fill="#00d78c"/>
<rect x="352.88" y="483.78" width="13.58" height="13.58" fill="#00b92d"/>
<rect x="366.15" y="483.78" width="26.85" height="13.58" fill="#ffd700"/>
<rect x="392.70" y="483.78" width="13.58" height="13.58" fill="#ff8c00"/>
<rect x="405.98" y="483.78" width="26.85" height="13.58" fill="#ffb400"/>
<rect x="432.53" y="483.78" width="13.58" height="13.58" fill="#ff8c00"/>
<rect x="445.80" y="483.78" width="26.85" height="13.58" fill="#ffb400"/>
<rect x="472.35" y="483.78" width="13.58" height="13.58" fill="#ffff00"/>
<rect x="485.62" y="483.78" width="13.58" height="13.58" fill="#a0dc0a"/>
<rect x="498.90" y="483.78" width="26.85" height="13.58" fill="#00f0dc"/>
<rect x="525.45" y="483.78" width="13.58" height="13.58" fill="#00d78c"/>
<rect x="538.73" y="483.78" width="13.58" height="13.58" fill="#46be00"/>
<rect x="552.00" y="483.78" width="26.85" height="13.58" fill="#00b92d"/>
<rect x="578.55" y="483.78" width="13.58" height="13.58" fill="#46be00"/>
<rect x="591.83" y="483.78" width="13.58" height="13.58" fill="#ffff00"/>
<rect x="605.10" y="483.78" width="26.85" height="13.58" fill="#ffb400"/>
<rect x="631.65" y="483.78" width="13.58" height="13.58" fill="#a0dc0a"/>
<rect x="644.92" y="483.78" width="26.85" height="13.58" fill="#ff8c00"/>
<rect x="671.48" y="483.78" width="13.58" height="13.58" fill="#ff5a0a"/>
<rect x="153.75" y="497.05" width="13.58" height="13.58" fill="#46be00"/>
<rect x="167.03" y="497.05" width="26.85" height="13.58" fill="#a0dc0a"/>
<rect x="193.57" y="497.05" width="13.58" height="13.58" fill="#46be00"/>
<rect x="206.85" y="497.05" width="13.58" height="13.58" fill="#00d78c"/>
<rect x="220.12" y="497.05" width="26.85" height="13.58" fill="#00b92d"/>
<rect x="246.68" y="497.05" width="26.85" height="13.58" fill="#00d78c"/>
<rect x="273.23" y="497.05" width="13.58" height="13.58" fill="#a0dc0a"/>
<rect x="286.50" y="497.05" width="26.85" height="13.58" fill="#ffff00"/>
<rect x="313.05" y="497.05" width="13.58" height="13.58" fill="#ffd700"/>
<rect x="326.33" y="497.05" width="13.58" height="13.58" fill="#00d78c"/>
<rect x="339.60" y="497.05" width="26.85" height="13.58" fill="#00b92d"/>
<rect x="366.15" y="497.05" width="26.85" height="13.58" fill="#ffd700"/>
<rect x="392.70" y="497.05" width="26.85" height="13.58" fill="#ff8c00"/>
<rect x="419.25" y="497.05" width="26.85" height="13.58" fill="#ffb400"/>
<rect x="445.80" y="497.05" width="13.58" height="13.58" fill="#ffd700"/>
<rect x="459.07" y="497.05" width="13.58" height="13.58" fill="#ffff00"/>
<rect x="472.35" y="497.05" width="13.58" height="13.58" fill="#a0dc0a"/>
<rect x="485.62" y="497.05" width="13.58" height="13.58" fill="#46be00"/>
<rect x="498.90" y="497.05" width="13.58" height="13.58" fill="#00f0dc"/>
<rect x="512.17" y="497.05" width="13.58" height="13.58" fill="#00d78c"/>
<rect x="525.45" y="497.05" width="13.58" height="13.58" fill="#ffd700"/>
<rect x="538.73" y="497.05" width="13.58" height="13.58" fill="#ffb400"/>
<rect x="552.00" y="497.05" width="13.58" height="13.58" fill="#a0dc0a"/>
<rect x="565.28" y="497.05" width="13.58" height="13.58" fill="#46be00"/>
<rect x="578.55" y="497.05" width="13.58" height="13.58" fill="#00b92d"/>
<rect x="591.83" y="497.05" width="13.58" height="13.58" fill="#ffff00"/>
<rect x="605.10" y="497.05" width="13.58" height="13.58" fill="#ffd700"/>
<rect x="618.38" y="497.05" width="26.85" height="13.58" fill="#ff8c00"/>
<rect x="644.92" y="497.05" width="13.58" height="13.58" fill="#ffb400"/>
<rect x="658.20" y="497.05" width="13.58" height="13.58" fill="#ff8c00"/>
<rect x="671.48" y="497.05" width="13.58" height="13.58" fill="#ff5a0a"/>
<rect x="153.75" y="510.32" width="13.58" height="13.58" fill="#00b92d"/>
<rect x="167.03" y="510.32" width="13.58" height="13.58" fill="#a0dc0a"/>
<rect x="180.30" y="510.32" width="13.58" height="13.58" fill="#46be00"/>
<rect x="193.57" y="510.32" width="13.58" height="13.58" fill="#00b92d"/>
<rect x="206.85" y="510.32" width="53.40" height="13.58" fill="#00d78c"/>
<rect x="259.95" y="510.32" width="13.58" height="13.58" fill="#00b92d"/>
<rect x="273.23" y="510.32" width="13.58" height="13.58" fill="#a0dc0a"/>
<rect x="286.50" y="510.32" width="13.58" height="13.58" fill="#ffff00"/>
<rect x="299.77" y="510.32" width="40.12" height="13.58" fill="#a0dc0a"/>
<rect x="339.60" y="510.32" width="40.12" height="13.58" fill="#ffff00"/>
<rect x="379.43" y="510.32" width="40.12" height="13.58" fill="#ffb400"/>
<rect x="419.25" y="510.32" width="13.58" height="13.58" fill="#ff8c00"/>
<rect x="432.53" y="510.32" width="13.58" height="13.58" fill="#a0dc0a"/>
<rect x="445.80" y="510.32" width="13.58" height="13.58" fill="#ffd700"/>
<rect x="459.07" y="510.32" width="13.58" height="13.58" fill="#ffff00"/>
<rect x="472.35" y="510.32" width="13.58" height="13.58" fill="#a0dc0a"/>
<rect x="485.62" y="510.32" width="13.58" height="13.58" fill="#46be00"/>
<rect x="498.90" y="510.32" width="13.58" height="13.58" fill="#00b92d"/>
<rect x="512.17" y="510.32" width="13.58" height="13.58" fill="#00d78c"/>
<rect x="525.45" y="510.32" width="13.58" height="13.58" fill="#ffd700"/>
<rect x="538.73" y="510.32" width="13.58" height="13.58" fill="#ffb400"/>
<rect x="552.00" y="510.32" width="13.58" height="13.58" fill="#ffff00"/>
<rect x="565.28" y="510.32" width="13.58" height="13.58" fill="#a0dc0a"/>
<rect x="578.55" y="510.32" width="13.58" height="13.58" fill="#00b92d"/>
<rect x="591.83" y="510.32" width="13.58" height="13.58" fill="#46be00"/>
<rect x="605.10" y="510.32" width="13.58" height="13.58" fill="#ffb400"/>
<rect x="618.38" y="510.32" width="13.58" height="13.58" fill="#ff8c00"/>
<rect x="631.65" y="510.32" width="26.85" height="13.58" fill="#ff5a0a"/>
<rect x="658.20" y="510.32" width="13.58" height="13.58" fill="#ff140a"/>
<rect x="671.48" y="510.32" width="13.58" height="13.58" fill="#ff8c00"/>
<rect x="153.75" y="523.60" width="26.85" height="13.58" fill="#00d78c"/>
<rect x="180.30" y="523.60" width="13.58" height="13.58" fill="#00beff"/>
<rect x="193.57" y="523.60" width="13.58" height="13.58" fill="#00d78c"/>
<rect x="206.85" y="523.60" width="13.58" height="13.58" fill="#00f0dc"/>
<rect x="220.12" y="523.60" width="13.58" height="13.58" fill="#00d78c"/>
<rect x="233.40" y="523.60" width="13.58" height="13.58" fill="#00b92d"/>
<rect x="246.68" y="523.60" width="13.58" height="13.58" fill="#46be00"/>
<rect x="259.95" y="523.60" width="53.40" height="13.58" fill="#a0dc0a"/>
<rect x="313.05" y="523.60" width="13.58" height="13.58" fill="#46be00"/>
<rect x="326.33" y="523.60" width="13.58" height="13.58" fill="#00b92d"/>
<rect x="339.60" y="523.60" width="13.58" height="13.58" fill="#a0dc0a"/>
<rect x="352.88" y="523.60" width="26.85" height="13.58" fill="#ffb400"/>
<rect x="379.43" y="523.60" width="13.58" height="13.58" fill="#ffd700"/>
<rect x="392.70" y="523.60" width="26.85" height="13.58" fill="#ffb400"/>
<rect x="419.25" y="523.60" width="13.58" height="13.58" fill="#ff8c00"/>
<rect x="432.53" y="523.60" width="26.85" height="13.58" fill="#46be00"/>
<rect x="459.07" y="523.60" width="13.58" height="13.58" fill="#ffd700"/>
<rect x="472.35" y="523.60" width="13.58" height="13.58" fill="#a0dc0a"/>
<rect x="485.62" y="523.60" width="13.58" height="13.58" fill="#00b92d"/>
<rect x="498.90" y="523.60" width="26.85" height="13.58" fill="#00d78c"/>
<rect x="525.45" y="523.60" width="13.58" height="13.58" fill="#00f0dc"/>
<rect x="538.73" y="523.60" width="13.58" height="13.58" fill="#ffb400"/>
<rect x="552.00" y="523.60" width="13.58" height="13.58" fill="#ffd700"/>
<rect x="565.28" y="523.60" width="13.58" height="13.58" fill="#ffff00"/>
<rect x="578.55" y="523.60" width="13.58" height="13.58" fill="#a0dc0a"/>
<rect x="591.83" y="523.60" width="13.58" height="13.58" fill="#ffff00"/>
<rect x="605.10" y="523.60" width="13.58" height="13.58" fill="#ff8c00"/>
<rect x="618.38" y="523.60" width="13.58" height="13.58" fill="#ff140a"/>
<rect x="631.65" y="523.60" width="13.58" height="13.58" fill="#ffb400"/>
<rect x="644.92" y="523.60" width="13.58" height="13.58" fill="#ff140a"/>
<rect x="658.20" y="523.60" width="13.58" height="13.58" fill="#ff5a0a"/>
<rect x="671.48" y="523.60" width="13.58" height="13.58" fill="#ff8c00"/>
<rect x="153.75" y="536.88" width="13.58" height="13.58" fill="#00d78c"/>
<rect x="167.03" y="536.88" width="13.58" height="13.58" fill="#00f0dc"/>
<rect x="180.30" y="536.88" width="13.58" height="13.58" fill="#00beff"/>
<rect x="193.57" y="536.88" width="13.58" height="13.58" fill="#00f0dc"/>
<rect x="206.85" y="536.88" width="13.58" height="13.58" fill="#00beff"/>
<rect x="220.12" y="536.88" width="13.58" height="13.58" fill="#00d78c"/>
<rect x="233.40" y="536.88" width="13.58" height="13.58" fill="#00b92d"/>
<rect x="246.68" y="536.88" width="13.58" height="13.58" fill="#a0dc0a"/>
<rect x="259.95" y="536.88" width="13.58" height="13.58" fill="#ffff00"/>
<rect x="273.23" y="536.88" width="13.58" height="13.58" fill="#a0dc0a"/>
<rect x="286.50" y="536.88" width="26.85" height="13.58" fill="#00b92d"/>
<rect x="313.05" y="536.88" width="13.58" height="13.58" fill="#46be00"/>
<rect x="326.33" y="536.88" width="26.85" height="13.58" fill="#a0dc0a"/>
<rect x="352.88" y="536.88" width="13.58" height="13.58" fill="#ffff00"/>
<rect x="366.15" y="536.88" width="26.85" height="13.58" fill="#ffd700"/>
<rect x="392.70" y="536.88" width="13.58" height="13.58" fill="#ffb400"/>
<rect x="405.98" y="536.88" width="13.58" height="13.58" fill="#ff8c00"/>
<rect x="419.25" y="536.88" width="13.58" height="13.58" fill="#ffb400"/>
<rect x="432.53" y="536.88" width="13.58" height="13.58" fill="#ffd700"/>
<rect x="445.80" y="536.88" width="26.85" height="13.58" fill="#a0dc0a"/>
<rect x="472.35" y="536.88" width="13.58" height="13.58" fill="#46be00"/>
<rect x="485.62" y="536.88" width="40.12" height="13.58" fill="#00d78c"/>
<rect x="525.45" y="536.88" width="13.58" height="13.58" fill="#46be00"/>
<rect x="538.73" y="536.88" width="26.85" height="13.58" fill="#ff8c00"/>
<rect x="565.28" y="536.88" width="13.58" height="13.58" fill="#ffd700"/>
<rect x="578.55" y="536.88" width="13.58" height="13.58" fill="#ffff00"/>
<rect x="591.83" y="536.88" width="13.58" height="13.58" fill="#ff140a"/>
<rect x="605.10" y="536.88" width="13.58" height="13.58" fill="#d70028"/>
<rect x="618.38" y="536.88" width="13.58" height="13.58" fill="#9b0055"/>
<rect x="631.65" y="536.88" width="26.85" height="13.58" fill="#ffb400"/>
<rect x="658.20" y="536.88" width="26.85" height="13.58" fill="#ff8c00"/>
<rect x="153.75" y="550.15" width="13.58" height="13.58" fill="#00b92d"/>
<rect x="167.03" y="550.15" width="13.58" height="13.58" fill="#00d78c"/>
<rect x="180.30" y="550.15" width="13.58" height="13.58" fill="#00f0dc"/>
<rect x="193.57" y="550.15" width="13.58" height="13.58" fill="#00beff"/>
<rect x="206.85" y="550.15" width="13.58" height="13.58" fill="#0555ff"/>
<rect x="220.12" y="550.15" width="26.85" height="13.58" fill="#00b92d"/>
<rect x="246.68" y="550.15" width="26.85" height="13.58" fill="#ffff00"/>
<rect x="273.23" y="550.15" width="53.40" height="13.58" fill="#46be00"/>
<rect x="326.33" y="550.15" width="40.12" height="13.58" fill="#a0dc0a"/>
<rect x="366.15" y="550.15" width="13.58" height="13.58" fill="#ffff00"/>
<rect x="379.43" y="550.15" width="26.85" height="13.58" fill="#ffd700"/>
<rect x="405.98" y="550.15" width="13.58" height="13.58" fill="#ff8c00"/>
<rect x="419.25" y="550.15" width="40.12" height="13.58" fill="#ffd700"/>
<rect x="459.07" y="550.15" width="13.58" height="13.58" fill="#a0dc0a"/>
<rect x="472.35" y="550.15" width="53.40" height="13.58" fill="#00d78c"/>
<rect x="525.45" y="550.15" width="13.58" height="13.58" fill="#ffb400"/>
<rect x="538.73" y="550.15" width="26.85" height="13.58" fill="#ff5a0a"/>
<rect x="565.28" y="550.15" width="13.58" height="13.58" fill="#ff8c00"/>
<rect x="578.55" y="550.15" width="13.58" height="13.58" fill="#ff140a"/>
<rect x="591.83" y="550.15" width="13.58" height="13.58" fill="#d70028"/>
<rect x="605.10" y="550.15" width="13.58" height="13.58" fill="#ff140a"/>
<rect x="618.38" y="550.15" width="13.58" height="13.58" fill="#d70028"/>
<rect x="631.65" y="550.15" width="53.40" height="13.58" fill="#ff5a0a"/>
<rect x="153.75" y="563.42" width="13.58" height="13.58" fill="#00b92d"/>
<rect x="167.03" y="563.42" width="13.58" height="13.58" fill="#00d78c"/>
<rect x="180.30" y="563.42" width="26.85" height="13.58" fill="#00f0dc"/>
<rect x="206.85" y="563.42" width="13.58" height="13.58" fill="#00beff"/>
<rect x="220.12" y="563.42" width="26.85" height="13.58" fill="#00b92d"/>
<rect x="246.68" y="563.42" width="26.85" height="13.58" fill="#ffff00"/>
<rect x="273.23" y="563.42" width="13.58" height="13.58" fill="#00b92d"/>
<rect x="286.50" y="563.42" width="13.58" height="13.58" fill="#00f0dc"/>
<rect x="299.77" y="563.42" width="13.58" height="13.58" fill="#00beff"/>
<rect x="313.05" y="563.42" width="13.58" height="13.58" fill="#46be00"/>
<rect x="326.33" y="563.42" width="13.58" height="13.58" fill="#a0dc0a"/>
<rect x="339.60" y="563.42" width="13.58" height="13.58" fill="#ffff00"/>
<rect x="352.88" y="563.42" width="13.58" height="13.58" fill="#ffd700"/>
<rect x="366.15" y="563.42" width="40.12" height="13.58" fill="#ffff00"/>
<rect x="405.98" y="563.42" width="53.40" height="13.58" fill="#ffd700"/>
<rect x="459.07" y="563.42" width="13.58" height="13.58" fill="#00b92d"/>
<rect x="472.35" y="563.42" width="26.85" height="13.58" fill="#00d78c"/>
<rect x="498.90" y="563.42" width="13.58" height="13.58" fill="#00b92d"/>
<rect x="512.17" y="563.42" width="13.58" height="13.58" fill="#00d78c"/>
<rect x="525.45" y="563.42" width="13.58" height="13.58" fill="#ff8c00"/>
<rect x="538.73" y="563.42" width="26.85" height="13.58" fill="#ff5a0a"/>
<rect x="565.28" y="563.42" width="13.58" height="13.58" fill="#ff140a"/>
<rect x="578.55" y="563.42" width="66.67" height="13.58" fill="#d70028"/>
<rect x="644.92" y="563.42" width="40.12" height="13.58" fill="#ff140a"/>
<rect x="153.75" y="576.70" width="13.58" height="13.58" fill="#00d78c"/>
<rect x="167.03" y="576.70" width="26.85" height="13.58" fill="#00f0dc"/>
<rect x="193.57" y="576.70" width="13.58" height="13.58" fill="#00d78c"/>
<rect x="206.85" y="576.70" width="13.58" height="13.58" fill="#46be00"/>
<rect x="220.12" y="576.70" width="26.85" height="13.58" fill="#a0dc0a"/>
<rect x="246.68" y="576.70" width="26.85" height="13.58" fill="#00f0dc"/>
<rect x="273.23" y="576.70" width="13.58" height="13.58" fill="#00b92d"/>
<rect x="286.50" y="576.70" width="26.85" height="13.58" fill="#00d78c"/>
<rect x="313.05" y="576.70" width="13.58" height="13.58" fill="#46be00"/>
<rect x="326.33" y="576.70" width="13.58" height="13.58" fill="#ffd700"/>
<rect x="339.60" y="576.70" width="13.58" height="13.58" fill="#a0dc0a"/>
<rect x="352.88" y="576.70" width="13.58" height="13.58" fill="#46be00"/>
<rect x="366.15" y="576.70" width="13.58" height="13.58" fill="#ffd700"/>
<rect x="379.43" y="576.70" width="13.58" height="13.58" fill="#a0dc0a"/>
<rect x="392.70" y="576.70" width="13.58" height="13.58" fill="#ffff00"/>
<rect x="405.98" y="576.70" width="26.85" height="13.58" fill="#ffd700"/>
<rect x="432.53" y="576.70" width="13.58" height="13.58" fill="#ffff00"/>
<rect x="445.80" y="576.70" width="13.58" height="13.58" fill="#a0dc0a"/>
<rect x="459.07" y="576.70" width="13.58" height="13.58" fill="#00d78c"/>
<rect x="472.35" y="576.70" width="13.58" height="13.58" fill="#46be00"/>
<rect x="485.62" y="576.70" width="26.85" height="13.58" fill="#00b92d"/>
<rect x="512.17" y="576.70" width="13.58" height="13.58" fill="#ffd700"/>
<rect x="525.45" y="576.70" width="13.58" height="13.58" fill="#ffb400"/>
<rect x="538.73" y="576.70" width="13.58" height="13.58" fill="#ff8c00"/>
<rect x="552.00" y="576.70" width="13.58" height="13.58" fill="#46be00"/>
<rect x="565.28" y="576.70" width="40.12" height="13.58" fill="#ff140a"/>
<rect x="605.10" y="576.70" width="13.58" height="13.58" fill="#ff8c00"/>
<rect x="618.38" y="576.70" width="66.67" height="13.58" fill="#d70028"/>
<rect x="153.75" y="589.98" width="40.12" height="13.58" fill="#00f0dc"/>
<rect x="193.57" y="589.98" width="40.12" height="13.58" fill="#00d78c"/>
<rect x="233.40" y="589.98" width="13.58" height="13.58" fill="#00f0dc"/>
<rect x="246.68" y="589.98" width="13.58" height="13.58" fill="#00d78c"/>
<rect x="259.95" y="589.98" width="13.58" height="13.58" fill="#00b92d"/>
<rect x="273.23" y="589.98" width="13.58" height="13.58" fill="#46be00"/>
<rect x="286.50" y="589.98" width="26.85" height="13.58" fill="#ffd700"/>
<rect x="313.05" y="589.98" width="13.58" height="13.58" fill="#46be00"/>
<rect x="326.33" y="589.98" width="40.12" height="13.58" fill="#a0dc0a"/>
<rect x="366.15" y="589.98" width="13.58" height="13.58" fill="#ffd700"/>
<rect x="379.43" y="589.98" width="13.58" height="13.58" fill="#ff8c00"/>
<rect x="392.70" y="589.98" width="13.58" height="13.58" fill="#ffb400"/>
<rect x="405.98" y="589.98" width="13.58" height="13.58" fill="#ffd700"/>
<rect x="419.25" y="589.98" width="26.85" height="13.58" fill="#a0dc0a"/>
<rect x="445.80" y="589.98" width="26.85" height="13.58" fill="#00d78c"/>
<rect x="472.35" y="589.98" width="40.12" height="13.58" fill="#00b92d"/>
<rect x="512.17" y="589.98" width="13.58" height="13.58" fill="#ffb400"/>
<rect x="525.45" y="589.98" width="26.85" height="13.58" fill="#ff8c00"/>
<rect x="552.00" y="589.98" width="13.58" height="13.58" fill="#ff5a0a"/>
<rect x="565.28" y="589.98" width="26.85" height="13.58" fill="#ff140a"/>
<rect x="591.83" y="589.98" width="13.58" height="13.58" fill="#ff8c00"/>
<rect x="605.10" y="589.98" width="13.58" height="13.58" fill="#ff5a0a"/>
<rect x="618.38" y="589.98" width="13.58" height="13.58" fill="#ff140a"/>
<rect x="631.65" y="589.98" width="26.85" height="13.58" fill="#d70028"/>
<rect x="658.20" y="589.98" width="26.85" height="13.58" fill="#ff140a"/>
</g>
<clipPath id="mc"><rect x="153.75" y="72.25" width="531.00" height="531.00"/></clipPath>
<g clip-path="url(#mc)" fill="none" stroke-linecap="round" stroke-linejoin="round">
<path d="M160.8 71.7L168.4 79.1M167.2 76.2L168.4 79.1L165.5 77.9 M184.7 71.2L191.0 79.6M190.2 76.6L191.0 79.6L188.3 78.0 M209.7 70.2L212.5 80.6M212.9 77.4L212.5 80.6L210.6 78.1 M233.4 68.7L235.3 82.1M236.2 78.5L235.3 82.1L233.4 78.9 M256.2 67.1L259.0 83.7M259.9 79.5L259.0 83.7L256.7 80.0 M279.2 66.1L282.5 84.7M283.5 80.0L282.5 84.7L280.0 80.7 M302.3 63.9L305.9 86.9M307.2 81.4L305.9 86.9L303.0 82.1 M325.5 63.6L329.2 87.2M330.5 81.6L329.2 87.2L326.2 82.3 M348.5 63.5L352.7 87.3M353.9 81.6L352.7 87.3L349.6 82.3 M371.1 63.1L376.6 87.7M377.6 81.7L376.6 87.7L373.2 82.7 M393.8 63.1L400.4 87.7M401.2 81.7L400.4 87.7L396.8 82.9 M416.4 63.4L424.3 87.4M424.7 81.4L424.3 87.4L420.4 82.8 M438.8 63.8L448.4 87.0M448.4 81.0L448.4 87.0L444.2 82.7 M461.3 64.0L472.4 86.8M472.0 80.9L472.4 86.8L468.0 82.8 M484.5 64.1L495.7 86.7M495.3 80.7L495.7 86.7L491.2 82.7 M507.7 64.8L519.0 86.0M518.4 80.2L519.0 86.0L514.6 82.3 M530.7 66.0L542.5 84.8M541.5 79.5L542.5 84.8L538.1 81.6 M554.3 68.3L565.4 82.5M564.2 78.1L565.4 82.5L561.4 80.2 M577.8 71.0L588.4 79.8M586.6 76.5L588.4 79.8L584.8 78.7 M601.3 71.8L611.4 79.0M609.5 76.1L611.4 79.0L608.0 78.2 M625.0 72.1L634.2 78.7M632.4 76.0L634.2 78.7L631.0 77.9 M648.6 72.3L657.1 78.5M655.5 75.9L657.1 78.5L654.1 77.7 M148.9 91.7L157.0 98.2M155.5 95.5L157.0 98.2L154.1 97.3 M171.7 91.6L180.7 98.3M179.0 95.5L180.7 98.3L177.6 97.5 M197.2 89.9L201.7 99.9M201.6 96.8L201.7 99.9L199.4 97.7 M222.7 89.9L222.7 99.9M223.8 97.2L222.7 99.9L221.6 97.2 M244.8 86.4L247.1 103.4M248.2 99.2L247.1 103.4L244.9 99.6 M267.5 86.4L270.9 103.5M271.8 99.1L270.9 103.5L268.5 99.7 M290.6 84.0L294.3 105.9M295.5 100.6L294.3 105.9L291.5 101.3 M313.9 82.8L317.6 107.1M319.0 101.4L317.6 107.1L314.6 102.0 M337.1 83.1L340.9 106.8M342.2 101.2L340.9 106.8L337.9 101.9 M359.7 82.7L364.7 107.2M365.8 101.3L364.7 107.2L361.4 102.2 M382.2 82.4L388.7 107.5M389.5 101.6L388.7 107.5L385.1 102.7 M405.1 82.7L412.3 107.2M412.9 101.2L412.3 107.2L408.6 102.5 M428.1 83.1L435.9 106.8M436.3 100.8L435.9 106.8L432.0 102.2 M449.9 83.5L460.5 106.4M460.2 100.4L460.5 106.4L456.1 102.3 M472.7 83.5L484.2 106.4M483.7 100.5L484.2 106.4L479.7 102.5 M496.1 84.1L507.3 105.8M506.8 99.9L507.3 105.8L502.9 102.0 M519.1 84.6L530.9 105.3M530.1 99.6L530.9 105.3L526.4 101.7 M542.3 85.8L554.1 104.1M553.1 98.8L554.1 104.1L549.7 101.0 M566.0 89.6L577.0 100.3M575.3 96.6L577.0 100.3L573.2 98.8 M589.4 90.6L600.1 99.3M598.3 96.0L600.1 99.3L596.5 98.2 M613.0 91.3L622.9 98.6M621.1 95.6L622.9 98.6L619.6 97.7 M637.3 91.9L645.2 98.0M643.6 95.4L645.2 98.0L642.3 97.2 M160.3 112.2L168.8 116.8M167.0 114.5L168.8 116.8L165.9 116.4 M183.1 109.0L192.6 120.0M191.3 116.3L192.6 120.0L189.1 118.2 M211.1 109.8L211.1 119.2M212.2 116.6L211.1 119.2L210.0 116.6 M233.6 108.6L235.1 120.4M235.9 117.2L235.1 120.4L233.4 117.5 M256.3 106.2L258.9 122.8M259.9 118.5L258.9 122.8L256.7 119.1 M279.0 104.0L282.7 125.0M283.8 119.8L282.7 125.0L279.9 120.5 M301.9 103.2L306.3 125.8M307.3 120.3L306.3 125.8L303.2 121.1 M325.4 102.8L329.3 126.2M330.5 120.6L329.3 126.2L326.3 121.3 M348.2 102.3L353.0 126.7M354.1 120.9L353.0 126.7L349.7 121.7 M370.6 101.5L377.1 127.5M377.9 121.6L377.1 127.5L373.6 122.6 M393.6 101.9L400.6 127.1M401.3 121.2L400.6 127.1L396.9 122.4 M417.0 102.5L423.7 126.5M424.4 120.5L423.7 126.5L420.1 121.8 M440.1 102.8L447.1 126.2M447.6 120.3L447.1 126.2L443.4 121.6 M461.7 103.2L472.0 125.8M471.8 119.9L472.0 125.8L467.7 121.7 M484.6 103.9L495.6 125.1M495.1 119.3L495.6 125.1L491.2 121.3 M507.5 104.0L519.2 125.0M518.5 119.2L519.2 125.0L514.6 121.3 M530.6 104.1L542.6 124.9M541.8 119.2L542.6 124.9L538.0 121.3 M553.9 107.4L565.8 121.6M564.3 117.1L565.8 121.6L561.6 119.4 M577.6 110.1L588.6 118.9M586.7 115.6L588.6 118.9L585.0 117.8 M600.9 109.8L611.8 119.2M610.1 115.8L611.8 119.2L608.2 118.0 M624.9 111.3L634.3 117.7M632.5 115.0L634.3 117.7L631.1 117.0 M650.1 111.7L655.6 117.3M654.6 114.9L655.6 117.3L653.3 116.3 M671.6 111.8L680.6 117.2M678.8 114.8L680.6 117.2L677.5 116.7 M149.3 130.1L156.7 138.0M155.5 135.1L156.7 138.0L153.8 136.7 M172.2 129.0L180.2 139.0M179.2 135.6L180.2 139.0L177.1 137.3 M199.0 130.5L200.0 137.5M200.6 135.2L200.0 137.5L198.8 135.5 M221.5 128.3L224.0 139.8M224.5 136.5L224.0 139.8L222.1 137.0 M245.0 127.9L247.0 140.2M247.8 136.8L247.0 140.2L245.2 137.2 M267.4 123.5L271.0 144.6M272.2 139.5L271.0 144.6L268.2 140.1 M290.6 122.8L294.4 145.3M295.6 139.9L294.4 145.3L291.4 140.6 M313.8 122.5L317.7 145.6M318.9 140.1L317.7 145.6L314.7 140.8 M336.7 122.0L341.2 146.1M342.4 140.3L341.2 146.1L338.1 141.1 M359.0 121.0L365.4 147.1M366.3 141.1L365.4 147.1L361.9 142.2 M382.2 120.5L388.7 147.5M389.6 141.6L388.7 147.5L385.2 142.7 M405.0 121.8L412.5 146.3M413.0 140.3L412.5 146.3L408.7 141.6 M429.5 122.5L434.5 145.6M435.4 139.9L434.5 145.6L431.3 140.8 M451.6 122.4L458.8 145.7M459.3 139.8L458.8 145.7L455.1 141.1 M473.4 123.0L483.5 145.1M483.3 139.2L483.5 145.1L479.3 141.1 M496.1 123.6L507.4 144.5M506.7 138.8L507.4 144.5L502.9 140.9 M518.9 123.8L531.0 144.3M530.2 138.6L531.0 144.3L526.4 140.8 M542.0 125.5L554.5 142.6M553.2 137.6L554.5 142.6L550.0 139.9 M565.3 129.8L577.7 138.3M575.4 135.0L577.7 138.3L573.8 137.4 M588.8 130.6L600.7 137.5M598.4 134.5L600.7 137.5L597.0 137.0 M612.7 130.6L623.2 137.5M621.2 134.6L623.2 137.5L619.8 136.8 M636.7 131.3L645.7 136.8M643.9 134.3L645.7 136.8L642.7 136.3 M659.0 131.5L670.0 136.6M667.6 134.1L670.0 136.6L666.6 136.4 M682.7 131.3L692.7 136.8M690.6 134.3L692.7 136.8L689.5 136.4 M161.6 149.1L167.6 158.1M167.0 155.0L167.6 158.1L165.0 156.3 M184.6 148.6L191.1 158.6M190.5 155.3L191.1 158.6L188.3 156.7 M210.6 148.1L211.6 159.1M212.5 156.0L211.6 159.1L210.1 156.2 M233.3 148.1L235.4 159.1M236.0 155.9L235.4 159.1L233.6 156.3 M256.2 145.2L259.0 162.0M260.0 157.7L259.0 162.0L256.7 158.3 M279.0 142.2L282.7 165.0M284.0 159.6L282.7 165.0L279.8 160.2 M302.2 141.4L306.0 165.8M307.3 160.0L306.0 165.8L302.9 160.7 M325.3 141.6L329.4 165.6M330.6 159.9L329.4 165.6L326.3 160.6 M347.7 141.1L353.5 166.1M354.4 160.1L353.5 166.1L350.0 161.2 M370.4 140.8L377.3 166.4M378.0 160.5L377.3 166.4L373.7 161.6 M393.6 141.1L400.6 166.1M401.3 160.1L400.6 166.1L396.9 161.3 M416.1 141.8L424.6 165.4M424.8 159.4L424.6 165.4L420.6 160.9 M439.6 141.9L447.6 165.3M447.9 159.4L447.6 165.3L443.7 160.8 M462.7 142.0L471.0 165.2M471.3 159.2L471.0 165.2L467.1 160.8 M484.2 143.2L496.0 164.0M495.2 158.3L496.0 164.0L491.4 160.4 M506.6 144.3L520.1 162.9M518.7 157.5L520.1 162.9L515.3 159.9 M529.7 145.6L543.5 161.6M541.8 156.7L543.5 161.6L538.9 159.2 M552.9 147.9L566.8 159.3M564.6 155.3L566.8 159.3L562.4 157.9 M575.8 151.0L590.4 156.2M587.3 153.5L590.4 156.2L586.3 156.4 M598.4 151.6L614.3 155.6M610.9 153.1L614.3 155.6L610.1 156.2 M623.1 150.1L636.1 157.1M633.6 154.1L636.1 157.1L632.2 156.7 M648.1 150.6L657.6 156.6M655.7 154.0L657.6 156.6L654.4 156.0 M671.0 150.8L681.2 156.4M679.1 153.8L681.2 156.4L677.9 156.0 M150.0 168.6L156.0 177.7M155.4 174.6L156.0 177.7L153.4 175.9 M173.3 168.4L179.1 177.9M178.6 174.7L179.1 177.9L176.5 176.0 M197.5 168.1L201.4 178.2M201.5 175.1L201.4 178.2L199.2 175.9 M221.6 167.9L223.9 178.4M224.4 175.3L223.9 178.4L222.1 175.8 M244.8 166.6L247.2 179.7M247.9 176.1L247.2 179.7L245.2 176.6 M267.5 163.2L270.9 183.1M272.0 178.2L270.9 183.1L268.3 178.8 M290.6 161.3L294.4 185.0M295.7 179.4L294.4 185.0L291.4 180.0 M313.8 161.1L317.7 185.2M319.0 179.5L317.7 185.2L314.6 180.2 M336.4 160.9L341.6 185.4M342.6 179.5L341.6 185.4L338.2 180.4 M358.9 160.7L365.6 185.6M366.3 179.7L365.6 185.6L362.0 180.8 M381.9 160.7L389.0 185.6M389.6 179.6L389.0 185.6L385.3 180.8 M404.9 161.1L412.5 185.2M413.0 179.2L412.5 185.2L408.7 180.6 M428.1 161.3L435.9 185.0M436.3 179.0L435.9 185.0L432.0 180.4 M451.2 161.5L459.3 184.8M459.6 178.9L459.3 184.8L455.4 180.4 M472.5 162.8L484.4 183.5M483.6 177.8L484.4 183.5L479.9 179.9 M494.2 163.5L509.3 182.8M507.6 177.1L509.3 182.8L504.1 179.9 M517.4 165.0L532.5 181.3M530.6 176.2L532.5 181.3L527.6 179.0 M541.0 166.9L555.4 179.4M553.2 175.1L555.4 179.4L550.9 177.8 M564.4 168.4L578.6 177.9M576.1 174.3L578.6 177.9L574.3 177.0 M587.3 170.5L602.2 175.8M599.0 173.0L602.2 175.8L598.0 176.0 M611.3 170.2L624.7 176.1M621.9 173.3L624.7 176.1L620.8 176.0 M635.7 170.1L646.8 176.2M644.5 173.5L646.8 176.2L643.3 175.8 M659.3 170.3L669.7 176.0M667.5 173.4L669.7 176.0L666.3 175.6 M682.4 170.5L693.1 175.8M690.8 173.3L693.1 175.8L689.7 175.6 M161.8 188.0L167.4 197.4M166.9 194.2L167.4 197.4L164.9 195.5 M185.4 187.9L190.3 197.5M190.0 194.4L190.3 197.5L187.9 195.5 M209.4 187.4L212.8 198.0M213.1 194.8L212.8 198.0L210.8 195.5 M232.6 186.2L236.1 199.2M236.5 195.6L236.1 199.2L233.8 196.3 M255.5 183.4L259.7 202.0M260.5 197.2L259.7 202.0L257.0 198.0 M278.4 181.9L283.3 203.5M284.2 198.1L283.3 203.5L280.2 199.0 M301.4 181.0L306.8 204.4M307.7 198.7L306.8 204.4L303.4 199.6 M324.4 180.7L330.3 204.7M331.1 198.8L330.3 204.7L326.8 199.9 M347.3 180.4L353.9 205.0M354.6 199.0L353.9 205.0L350.3 200.2 M370.5 180.7L377.2 204.7M377.9 198.7L377.2 204.7L373.6 199.9 M393.6 181.0L400.6 204.4M401.1 198.5L400.6 204.4L396.9 199.8 M416.6 181.2L424.1 204.2M424.5 198.4L424.1 204.2L420.3 199.7 M439.6 181.2L447.6 204.2M447.9 198.3L447.6 204.2L443.7 199.8 M461.0 182.5L472.7 202.9M471.9 197.3L472.7 202.9L468.2 199.4 M482.6 183.1L497.6 202.3M496.0 196.6L497.6 202.3L492.5 199.4 M505.6 182.0L521.1 203.4M519.7 197.6L521.1 203.4L516.0 200.2 M528.9 185.7L544.3 199.7M542.1 195.0L544.3 199.7L539.5 197.9 M553.1 186.9L566.6 198.5M564.5 194.4L566.6 198.5L562.3 197.0 M575.7 188.7L590.5 196.7M587.7 193.3L590.5 196.7L586.1 196.2 M598.6 189.9L614.1 195.5M610.9 192.6L614.1 195.5L609.8 195.7 M621.9 190.2L637.3 195.2M634.0 192.5L637.3 195.2L633.1 195.5 M645.9 190.5L659.8 194.9M656.8 192.4L659.8 194.9L655.9 195.2 M669.4 190.5L682.8 194.9M679.9 192.4L682.8 194.9L679.0 195.2 M150.3 207.5L155.6 217.0M155.2 213.9L155.6 217.0L153.2 215.0 M173.7 207.1L178.7 217.4M178.5 214.1L178.7 217.4L176.3 215.2 M197.2 206.1L201.7 218.4M201.8 214.8L201.7 218.4L199.3 215.7 M220.4 204.3L225.1 220.2M225.5 215.9L225.1 220.2L222.4 216.8 M243.2 202.8L248.8 221.7M249.2 216.8L248.8 221.7L245.7 217.8 M266.2 202.0L272.3 222.5M272.8 217.3L272.3 222.5L269.0 218.4 M289.3 201.4L295.7 223.1M296.2 217.6L295.7 223.1L292.2 218.8 M312.3 200.6L319.2 223.9M319.7 218.0L319.2 223.9L315.5 219.3 M335.4 200.1L342.5 224.4M343.1 218.4L342.5 224.4L338.8 219.7 M358.8 199.9L365.7 224.6M366.4 218.6L365.7 224.6L362.0 219.9 M382.5 200.3L388.4 224.2M389.3 218.3L388.4 224.2L385.0 219.4 M404.9 201.2L412.6 223.3M412.9 217.7L412.6 223.3L408.8 219.0 M428.2 201.1L435.8 223.4M436.1 217.7L435.8 223.4L432.0 219.1 M450.2 201.9L460.2 222.6M459.9 217.0L460.2 222.6L456.1 218.9 M471.3 203.7L485.6 220.8M484.0 215.6L485.6 220.8L480.8 218.2 M494.3 204.1L509.1 220.4M507.3 215.3L509.1 220.4L504.3 218.0 M518.0 205.3L532.0 219.2M530.0 214.7L532.0 219.2L527.4 217.3 M541.2 207.0L555.2 217.5M552.9 213.6L555.2 217.5L550.9 216.3 M564.1 208.0L578.8 216.5M576.1 213.0L578.8 216.5L574.5 215.9 M587.2 209.0L602.2 215.5M599.2 212.5L602.2 215.5L598.0 215.4 M609.7 209.8L626.2 214.7M622.8 212.0L626.2 214.7L621.8 215.1 M632.9 210.6L649.5 213.9M645.9 211.5L649.5 213.9L645.2 214.7 M656.4 210.9L672.5 213.6M668.9 211.4L672.5 213.6L668.4 214.5 M679.9 210.5L695.6 214.0M692.1 211.6L695.6 214.0L691.4 214.7 M161.8 226.7L167.4 236.9M167.0 233.6L167.4 236.9L164.8 234.8 M185.1 225.7L190.6 237.9M190.5 234.2L190.6 237.9L188.0 235.4 M208.2 223.3L214.0 240.3M214.2 235.7L214.0 240.3L211.0 236.8 M231.6 222.4L237.1 241.2M237.6 236.3L237.1 241.2L234.1 237.3 M254.7 222.1L260.5 241.5M261.0 236.5L260.5 241.5L257.4 237.6 M277.7 221.5L284.0 242.1M284.5 236.8L284.0 242.1L280.7 238.0 M300.6 220.8L307.6 242.8M308.0 237.2L307.6 242.8L304.0 238.5 M323.7 220.0L331.0 243.6M331.5 237.7L331.0 243.6L327.3 239.0 M347.0 219.3L354.2 244.3M354.8 238.3L354.2 244.3L350.5 239.6 M370.4 219.8L377.3 243.8M377.9 237.8L377.3 243.8L373.6 239.1 M394.0 221.1L400.2 242.5M400.7 237.1L400.2 242.5L396.8 238.2 M416.5 220.8L424.2 242.8M424.5 237.1L424.2 242.8L420.5 238.5 M439.4 221.1L447.8 242.5M447.8 236.9L447.8 242.5L444.0 238.4 M460.2 223.1L473.5 240.5M472.1 235.3L473.5 240.5L468.9 237.8 M482.6 223.9L497.6 239.7M495.6 234.7L497.6 239.7L492.7 237.5 M505.9 223.8L520.8 239.8M518.9 234.8L520.8 239.8L516.0 237.5 M529.1 225.3L544.1 238.3M541.8 233.9L544.1 238.3L539.4 236.7 M551.9 228.5L567.8 235.1M564.7 232.0L567.8 235.1L563.4 235.0 M575.5 228.6L590.7 235.0M587.6 232.0L590.7 235.0L586.4 234.9 M599.8 229.3L612.9 234.3M610.1 231.7L612.9 234.3L609.1 234.4 M620.4 230.0L638.8 233.6M634.8 231.0L638.8 233.6L634.2 234.5 M644.6 231.3L661.1 232.3M657.2 230.5L661.1 232.3L657.0 233.7 M667.8 230.5L684.4 233.1M680.7 230.9L684.4 233.1L680.2 234.1 M150.0 247.4L156.0 255.3M155.2 252.4L156.0 255.3L153.4 253.8 M173.3 246.2L179.2 256.5M178.7 253.1L179.2 256.5L176.5 254.4 M196.6 244.1L202.4 258.6M202.4 254.5L202.4 258.6L199.5 255.6 M219.9 242.4L225.6 260.3M225.9 255.6L225.6 260.3L222.5 256.7 M243.2 242.1L248.7 260.6M249.2 255.8L248.7 260.6L245.7 256.8 M266.2 241.3L272.2 261.4M272.7 256.2L272.2 261.4L269.0 257.3 M289.2 240.6L295.7 262.1M296.2 256.6L295.7 262.1L292.3 257.8 M312.0 239.8L319.5 262.9M319.9 257.0L319.5 262.9L315.7 258.4 M335.3 239.1L342.7 263.6M343.2 257.6L342.7 263.6L338.9 258.9 M358.5 239.0L365.9 263.7M366.5 257.7L365.9 263.7L362.2 259.0 M382.0 240.2L389.0 262.5M389.4 256.9L389.0 262.5L385.4 258.1 M405.5 240.9L412.0 261.8M412.4 256.4L412.0 261.8L408.6 257.6 M427.8 240.4L436.1 262.3M436.2 256.6L436.1 262.3L432.3 258.1 M449.3 241.8L461.2 260.9M460.2 255.5L461.2 260.9L456.7 257.7 M471.0 243.7L486.0 259.0M484.0 254.1L486.0 259.0L481.1 256.9 M494.2 243.8L509.3 258.9M507.2 254.0L509.3 258.9L504.4 256.8 M517.4 244.6L532.5 258.1M530.3 253.5L532.5 258.1L527.8 256.4 M540.5 246.4L555.9 256.3M553.2 252.5L555.9 256.3L551.4 255.4 M563.5 247.6L579.4 255.1M576.4 251.8L579.4 255.1L574.9 254.9 M586.5 247.4L603.0 255.3M599.8 251.9L603.0 255.3L598.3 255.0 M609.5 247.1L626.5 255.6M623.3 252.0L626.5 255.6L621.7 255.2 M633.7 248.9L648.7 253.8M645.6 251.1L648.7 253.8L644.6 254.1 M656.1 249.7L672.8 253.0M669.1 250.6L672.8 253.0L668.5 253.8 M679.0 249.6L696.4 253.1M692.6 250.6L696.4 253.1L692.0 253.9 M161.7 267.2L167.5 274.6M166.7 271.9L167.5 274.6L165.0 273.2 M184.8 266.1L190.9 275.7M190.3 272.5L190.9 275.7L188.2 273.8 M207.8 264.3L214.4 277.5M214.1 273.6L214.4 277.5L211.4 274.9 M231.5 262.0L237.2 279.8M237.5 275.0L237.2 279.8L234.2 276.1 M254.6 261.6L260.6 280.1M260.9 275.3L260.6 280.1L257.5 276.4 M277.9 260.9L283.9 280.9M284.3 275.7L283.9 280.9L280.6 276.9 M300.1 259.4L308.1 282.4M308.4 276.5L308.1 282.4L304.2 278.0 M323.7 260.1L331.0 281.7M331.3 276.1L331.0 281.7L327.4 277.5 M346.9 259.1L354.3 282.7M354.7 276.8L354.3 282.7L350.5 278.1 M370.1 259.2L377.6 282.6M378.1 276.7L377.6 282.6L373.8 278.1 M393.0 259.3L401.2 282.5M401.5 276.6L401.2 282.5L397.3 278.1 M415.3 258.9L425.4 282.9M425.3 276.9L425.4 282.9L421.2 278.6 M437.5 260.6L449.7 281.2M448.8 275.5L449.7 281.2L445.1 277.7 M459.7 262.5L474.0 279.3M472.3 274.1L474.0 279.3L469.2 276.8 M482.5 263.1L497.7 278.7M495.6 273.7L497.7 278.7L492.8 276.5 M505.5 263.7L521.2 278.1M518.9 273.4L521.2 278.1L516.3 276.3 M528.8 264.4L544.4 277.4M542.0 272.9L544.4 277.4L539.6 275.9 M552.0 266.1L567.7 275.7M564.9 271.9L567.7 275.7L563.1 274.9 M574.7 267.2L591.5 274.6M588.2 271.2L591.5 274.6L586.8 274.4 M597.5 267.4L615.2 274.4M611.7 271.1L615.2 274.4L610.4 274.4 M620.8 268.2L638.4 273.6M634.8 270.6L638.4 273.6L633.8 274.0 M643.9 269.0L661.8 272.8M658.0 270.2L661.8 272.8L657.2 273.6 M666.8 269.1L685.4 272.7M681.4 270.1L685.4 272.7L680.7 273.6 M150.5 286.8L155.4 294.1M154.8 291.4L155.4 294.1L153.1 292.5 M173.5 286.4L179.0 294.5M178.3 291.6L179.0 294.5L176.5 292.8 M195.8 286.3L203.1 294.6M202.1 291.6L203.1 294.6L200.3 293.2 M219.6 284.1L225.8 296.8M225.6 293.0L225.8 296.8L223.0 294.3 M243.0 281.7L249.0 299.2M249.2 294.5L249.0 299.2L245.9 295.6 M267.2 281.4L271.2 299.4M272.0 294.8L271.2 299.4L268.6 295.6 M290.2 281.4L294.7 299.4M295.4 294.8L294.7 299.4L292.0 295.6 M312.2 280.9L319.2 299.9M319.4 294.9L319.2 299.9L315.8 296.2 M335.5 280.3L342.5 300.6M342.7 295.3L342.5 300.6L339.0 296.6 M358.1 278.8L366.4 302.1M366.6 296.2L366.4 302.1L362.4 297.7 M380.0 277.7L390.9 303.2M390.8 297.2L390.9 303.2L386.7 299.0 M401.3 276.3L416.1 304.6M415.5 298.7L416.1 304.6L411.6 300.7 M424.8 277.3L439.2 303.6M438.5 297.6L439.2 303.6L434.5 299.8 M448.1 281.7L462.3 299.2M460.7 293.9L462.3 299.2L457.5 296.5 M471.5 282.0L485.5 298.9M483.9 293.8L485.5 298.9L480.7 296.4 M493.7 282.7L509.7 298.2M507.5 293.2L509.7 298.2L504.7 296.1 M517.0 283.7L533.0 297.2M530.6 292.6L533.0 297.2L528.0 295.6 M540.8 284.0L555.6 296.9M553.4 292.5L555.6 296.9L551.0 295.3 M562.9 285.8L580.0 295.1M576.9 291.3L580.0 295.1L575.2 294.5 M585.0 287.2L604.4 293.7M600.6 290.4L604.4 293.7L599.3 294.0 M608.0 287.0L628.0 293.9M624.0 290.5L628.0 293.9L622.7 294.2 M631.7 289.2L650.7 291.7M646.5 289.3L650.7 291.7L646.0 292.9 M655.0 288.7L674.0 292.2M669.9 289.6L674.0 292.2L669.2 293.2 M677.9 288.5L697.5 292.4M693.3 289.6L697.5 292.4L692.6 293.3 M162.8 306.2L166.3 313.8M166.2 311.1L166.3 313.8L164.4 311.9 M184.8 305.0L190.8 315.0M190.3 311.7L190.8 315.0L188.2 313.0 M206.1 307.5L216.1 312.5M214.0 310.1L216.1 312.5L212.9 312.2 M233.1 302.8L235.6 317.2M236.4 313.4L235.6 317.2L233.5 313.9 M255.3 301.9L259.9 318.1M260.4 313.8L259.9 318.1L257.2 314.7 M278.4 300.9L283.3 319.1M283.9 314.4L283.3 319.1L280.4 315.3 M301.2 300.5L307.0 319.5M307.5 314.5L307.0 319.5L303.9 315.6 M324.0 300.2L330.7 319.8M331.0 314.7L330.7 319.8L327.3 315.9 M346.7 299.2L354.5 320.8M354.7 315.2L354.5 320.8L350.8 316.6 M368.5 297.6L379.2 322.4M379.1 316.4L379.2 322.4L374.9 318.2 M389.7 295.8L404.5 324.2M403.9 318.2L404.5 324.2L400.0 320.3 M412.6 295.5L428.1 324.5M427.4 318.5L428.1 324.5L423.5 320.6 M436.2 299.0L451.0 321.0M449.8 315.2L451.0 321.0L446.0 317.7 M459.8 302.2L473.9 317.8M472.1 312.9L473.9 317.8L469.2 315.5 M483.3 303.0L496.9 317.0M495.0 312.5L496.9 317.0L492.4 315.0 M504.4 303.2L522.3 316.8M519.5 312.0L522.3 316.8L517.0 315.3 M530.3 303.5L542.9 316.5M541.1 312.2L542.9 316.5L538.7 314.6 M552.1 304.3L567.6 315.7M565.0 311.6L567.6 315.7L562.9 314.5 M573.6 306.2L592.6 313.8M588.9 310.2L592.6 313.8L587.5 313.8 M596.2 307.1L616.5 312.9M612.4 309.7L616.5 312.9L611.3 313.4 M619.6 307.5L639.6 312.5M635.5 309.5L639.6 312.5L634.5 313.2 M642.4 307.8L663.3 312.2M659.0 309.3L663.3 312.2L658.1 313.2 M665.6 307.8L686.6 312.2M682.2 309.2L686.6 312.2L681.4 313.1 M149.7 327.1L156.3 332.0M154.9 329.8L156.3 332.0L153.7 331.3 M172.5 326.3L180.0 332.8M178.6 330.1L180.0 332.8L177.2 331.8 M196.2 326.6L202.7 332.6M201.5 330.0L202.7 332.6L200.1 331.6 M216.7 325.1L228.7 334.1M226.7 330.6L228.7 334.1L224.9 333.0 M244.2 322.1L247.7 337.1M248.4 333.0L247.7 337.1L245.4 333.7 M266.7 322.2L271.8 336.9M272.0 332.8L271.8 336.9L269.1 333.8 M289.8 320.7L295.2 338.4M295.6 333.7L295.2 338.4L292.2 334.7 M312.7 320.1L318.8 339.0M319.1 334.1L318.8 339.0L315.6 335.2 M335.4 319.5L342.6 339.6M342.8 334.3L342.6 339.6L339.1 335.7 M357.5 318.1L366.9 341.0M366.9 335.1L366.9 341.0L362.8 336.8 M379.1 316.4L391.9 342.7M391.5 336.7L391.9 342.7L387.4 338.6 M401.3 315.8L416.1 343.3M415.5 337.4L416.1 343.3L411.5 339.5 M424.5 317.1L439.4 342.0M438.5 336.0L439.4 342.0L434.7 338.4 M447.8 321.0L462.6 338.1M460.8 332.9L462.6 338.1L457.7 335.6 M471.3 322.3L485.7 336.8M483.7 332.1L485.7 336.8L481.0 334.8 M493.8 322.8L509.7 336.3M507.3 331.7L509.7 336.3L504.8 334.7 M516.9 323.7L533.0 335.4M530.4 331.2L533.0 335.4L528.2 334.2 M539.8 324.5L556.7 334.6M553.7 330.7L556.7 334.6L551.8 333.8 M562.2 325.2L580.8 333.9M577.3 330.1L580.8 333.9L575.7 333.6 M584.6 326.2L604.9 332.9M600.9 329.5L604.9 332.9L599.6 333.3 M607.5 326.6L628.5 332.5M624.2 329.2L628.5 332.5L623.1 333.1 M629.7 326.8L652.7 332.3M648.1 329.0L652.7 332.3L647.1 333.1 M652.7 327.1L676.2 332.0M671.4 328.8L676.2 332.0L670.5 333.1 M676.6 327.2L698.9 331.9M694.3 328.8L698.9 331.9L693.4 332.9 M160.6 348.6L168.6 349.6M166.3 348.3L168.6 349.6L166.1 350.3 M183.1 347.6L192.6 350.6M190.3 348.7L192.6 350.6L189.6 350.8 M207.6 344.4L214.6 353.9M213.8 350.6L214.6 353.9L211.7 352.1 M230.3 344.1L238.3 354.1M237.3 350.7L238.3 354.1L235.2 352.4 M253.8 342.7L261.4 355.5M260.8 351.6L261.4 355.5L258.2 353.1 M277.2 342.4L284.5 355.8M284.0 351.8L284.5 355.8L281.4 353.2 M300.4 341.6L307.8 356.6M307.5 352.3L307.8 356.6L304.5 353.7 M323.4 340.9L331.3 357.3M331.0 352.7L331.3 357.3L327.9 354.2 M345.9 340.0L355.3 358.2M354.8 353.1L355.3 358.2L351.5 354.9 M367.8 339.3L379.9 358.9M379.0 353.3L379.9 358.9L375.4 355.6 M390.2 337.3L404.0 360.9M403.1 354.9L404.0 360.9L399.2 357.2 M412.8 337.6L427.9 360.6M426.7 354.7L427.9 360.6L422.9 357.1 M436.0 339.8L451.2 358.4M449.5 352.9L451.2 358.4L446.1 355.6 M459.3 341.5L474.4 356.7M472.4 351.8L474.4 356.7L469.5 354.6 M482.0 342.7L498.2 355.5M495.6 351.0L498.2 355.5L493.3 354.0 M504.4 344.2L522.3 354.0M519.1 350.1L522.3 354.0L517.2 353.4 M527.6 344.6L545.6 353.6M542.3 349.8L545.6 353.6L540.6 353.2 M551.3 344.6L568.4 353.6M565.2 349.9L568.4 353.6L563.5 353.1 M573.6 344.9L592.6 353.3M589.0 349.6L592.6 353.3L587.4 353.2 M596.0 345.8L616.7 352.4M612.5 349.0L616.7 352.4L611.3 352.8 M618.7 346.5L640.5 351.7M636.1 348.5L640.5 351.7L635.1 352.5 M641.6 346.7L664.1 351.5M659.5 348.4L664.1 351.5L658.6 352.5 M664.8 346.8L687.4 351.4M682.7 348.3L687.4 351.4L681.9 352.4 M148.9 368.0L157.1 369.3M154.8 367.9L157.1 369.3L154.5 369.9 M171.5 367.6L181.0 369.6M178.5 368.0L181.0 369.6L178.1 370.2 M196.7 365.6L202.2 371.6M201.3 369.2L202.2 371.6L199.9 370.5 M219.0 363.6L226.5 373.6M225.6 370.3L226.5 373.6L223.5 371.8 M240.5 361.1L251.5 376.1M250.3 371.6L251.5 376.1L247.5 373.7 M264.3 362.3L274.1 375.0M273.0 371.0L274.1 375.0L270.5 372.9 M287.9 362.4L297.1 374.9M296.1 370.9L297.1 374.9L293.6 372.7 M310.7 362.0L320.7 375.3M319.6 371.1L320.7 375.3L317.0 373.1 M333.4 362.0L344.5 375.3M343.2 371.1L344.5 375.3L340.6 373.2 M356.0 361.3L368.4 376.0M366.9 371.4L368.4 376.0L364.1 373.7 M378.7 360.3L392.2 377.0M390.7 371.9L392.2 377.0L387.6 374.4 M401.1 359.9L416.4 377.4M414.5 372.1L416.4 377.4L411.3 374.8 M423.5 360.3L440.5 377.0M438.2 371.7L440.5 377.0L435.1 374.8 M446.7 361.1L463.8 376.2M461.3 371.2L463.8 376.2L458.5 374.4 M469.1 363.0L487.9 374.3M484.6 370.0L487.9 374.3L482.5 373.5 M492.0 363.7L511.5 373.6M507.9 369.5L511.5 373.6L506.1 373.1 M514.9 364.4L535.1 372.9M531.3 369.1L535.1 372.9L529.7 372.8 M537.0 364.6L559.5 372.7M555.2 368.8L559.5 372.7L553.7 372.9 M559.7 364.9L583.2 372.4M578.7 368.6L583.2 372.4L577.3 372.8 M584.3 365.0L605.2 372.3M601.1 368.7L605.2 372.3L599.8 372.6 M607.4 366.6L628.5 370.7M624.1 367.8L628.5 370.7L623.3 371.7 M630.5 367.0L652.0 370.3M647.4 367.6L652.0 370.3L646.8 371.5 M653.6 367.0L675.4 370.3M670.7 367.6L675.4 370.3L670.1 371.6 M676.7 366.6L698.7 370.7M694.1 367.7L698.7 370.7L693.4 371.8 M161.1 388.7L168.1 387.7M165.8 387.1L168.1 387.7L166.0 388.9 M182.8 388.2L192.8 388.2M190.1 387.1L192.8 388.2L190.1 389.3 M208.3 385.2L213.8 391.2M212.9 388.7L213.8 391.2L211.5 390.1 M228.8 383.2L239.8 393.2M238.1 389.6L239.8 393.2L236.1 391.8 M252.4 382.4L262.8 394.0M261.4 390.1L262.8 394.0L259.1 392.2 M275.8 382.8L285.9 393.6M284.5 389.9L285.9 393.6L282.3 391.9 M299.3 382.1L308.9 394.3M307.8 390.4L308.9 394.3L305.3 392.3 M322.3 380.9L332.4 395.5M331.4 391.1L332.4 395.5L328.6 393.0 M344.5 381.4L356.7 395.0M355.1 390.6L356.7 395.0L352.5 392.9 M366.9 381.6L380.8 394.8M378.8 390.4L380.8 394.8L376.3 393.0 M389.3 381.6L404.9 394.8M402.5 390.3L404.9 394.8L400.1 393.2 M411.6 382.4L429.1 394.0M426.1 389.7L429.1 394.0L424.0 393.0 M433.9 382.6L453.3 393.8M449.9 389.5L453.3 393.8L447.9 393.0 M456.5 383.3L477.2 393.1M473.4 389.0L477.2 393.1L471.6 392.7 M479.3 383.3L500.9 393.1M497.0 389.0L500.9 393.1L495.2 392.9 M502.6 383.3L524.1 393.1M520.1 388.9L524.1 393.1L518.4 392.8 M525.8 383.8L547.4 392.6M543.3 388.7L547.4 392.6L541.7 392.6 M548.9 384.2L570.8 392.2M566.6 388.4L570.8 392.2L565.1 392.4 M572.2 384.6L594.0 391.8M589.7 388.2L594.0 391.8L588.4 392.2 M595.6 385.9L617.1 390.5M612.6 387.5L617.1 390.5L611.8 391.4 M619.3 386.9L639.9 389.5M635.4 387.0L639.9 389.5L634.9 390.8 M642.1 387.2L663.6 389.2M658.9 386.8L663.6 389.2L658.5 390.7 M665.3 386.3L686.9 390.1M682.4 387.3L686.9 390.1L681.7 391.3 M149.6 406.9L156.3 408.6M154.4 407.2L156.3 408.6L154.0 408.9 M172.5 405.0L180.0 410.5M178.5 408.1L180.0 410.5L177.2 409.8 M196.5 405.8L202.5 409.8M201.1 407.7L202.5 409.8L200.1 409.3 M218.7 404.0L226.7 411.5M225.4 408.6L226.7 411.5L223.7 410.3 M241.3 403.2L250.6 412.3M249.2 409.0L250.6 412.3L247.3 410.9 M263.7 402.5L274.7 413.0M273.1 409.3L274.7 413.0L271.0 411.5 M288.0 403.8L297.0 411.8M295.5 408.7L297.0 411.8L293.8 410.6 M311.2 399.5L320.2 416.0M319.7 411.3L320.2 416.0L316.5 413.0 M333.0 400.6L345.0 414.9M343.5 410.4L345.0 414.9L340.8 412.7 M355.1 401.3L369.3 414.2M367.2 409.8L369.3 414.2L364.8 412.5 M377.7 401.9L393.2 413.6M390.7 409.4L393.2 413.6L388.5 412.3 M400.0 403.1L417.5 412.4M414.3 408.6L417.5 412.4L412.5 411.9 M422.6 403.6L441.3 411.9M437.8 408.2L441.3 411.9L436.2 411.7 M445.0 403.5L465.4 412.0M461.6 408.2L465.4 412.0L460.0 411.9 M467.6 402.9L489.4 412.6M485.4 408.5L489.4 412.6L483.6 412.4 M490.6 402.5L512.8 413.0M508.8 408.6L512.8 413.0L506.9 412.6 M514.5 402.8L535.5 412.7M531.7 408.6L535.5 412.7L529.8 412.4 M537.5 403.2L559.0 412.3M555.0 408.3L559.0 412.3L553.3 412.2 M561.0 404.2L582.0 411.3M577.8 407.7L582.0 411.3L576.6 411.6 M583.7 404.6L605.7 410.9M601.3 407.5L605.7 410.9L600.2 411.5 M606.7 404.8L629.2 410.7M624.7 407.3L629.2 410.7L623.6 411.4 M630.0 404.8L652.5 410.7M647.9 407.3L652.5 410.7L646.9 411.4 M653.5 405.3L675.5 410.2M670.9 407.1L675.5 410.2L670.0 411.1 M676.9 405.5L698.6 410.0M694.1 407.0L698.6 410.0L693.2 411.0 M161.8 427.1L167.3 427.6M165.4 426.5L167.3 427.6L165.2 428.2 M185.3 425.8L190.3 428.8M189.0 427.0L190.3 428.8L188.2 428.5 M206.1 428.6L216.1 426.1M213.1 425.6L216.1 426.1L213.6 427.9 M230.8 422.8L237.9 431.8M237.0 428.6L237.9 431.8L235.0 430.2 M252.6 422.9L262.6 431.7M260.9 428.4L262.6 431.7L259.1 430.5 M276.1 420.1L285.6 434.6M284.7 430.2L285.6 434.6L281.9 432.0 M299.3 418.8L308.9 435.8M308.2 430.9L308.9 435.8L305.0 432.7 M320.6 420.1L334.1 434.6M332.3 429.9L334.1 434.6L329.6 432.4 M343.0 421.2L358.2 433.4M355.8 429.2L358.2 433.4L353.5 432.0 M366.0 421.7L381.7 432.9M379.1 428.8L381.7 432.9L377.0 431.8 M388.6 422.2L405.6 432.4M402.6 428.4L405.6 432.4L400.7 431.6 M411.3 423.1L429.4 431.5M426.0 427.8L429.4 431.5L424.4 431.2 M434.1 423.6L453.1 431.0M449.4 427.5L453.1 431.0L448.0 431.1 M456.7 423.1L477.0 431.5M473.2 427.7L477.0 431.5L471.6 431.4 M478.9 422.0L501.3 432.6M497.3 428.2L501.3 432.6L495.4 432.3 M501.9 421.6L524.8 433.0M520.9 428.6L524.8 433.0L518.9 432.6 M524.4 422.5L548.8 432.1M544.5 427.9L548.8 432.1L542.8 432.1 M547.4 422.1L572.3 432.5M568.1 428.3L572.3 432.5L566.3 432.5 M571.7 423.3L594.5 431.3M590.1 427.4L594.5 431.3L588.7 431.5 M595.4 424.6L617.3 430.0M612.8 426.8L617.3 430.0L611.8 430.8 M619.3 424.8L639.9 429.8M635.6 426.8L639.9 429.8L634.7 430.6 M642.8 425.0L662.9 429.6M658.7 426.6L662.9 429.6L657.8 430.4 M665.4 425.0L686.8 429.6M682.4 426.6L686.8 429.6L681.5 430.5 M150.5 445.7L155.5 448.0M154.0 446.4L155.5 448.0L153.3 447.9 M173.7 444.9L178.7 448.9M177.6 446.9L178.7 448.9L176.5 448.2 M197.2 443.4L201.7 450.4M201.2 447.7L201.7 450.4L199.5 448.8 M219.5 443.1L226.0 450.6M225.0 447.8L226.0 450.6L223.3 449.2 M241.6 443.7L250.3 450.0M248.7 447.3L250.3 450.0L247.3 449.3 M263.0 445.9L275.5 447.9M272.5 446.0L275.5 447.9L272.0 448.6 M285.7 444.6L299.2 449.1M296.3 446.6L299.2 449.1L295.4 449.3 M309.0 442.6L322.5 451.1M320.0 447.7L322.5 451.1L318.4 450.4 M330.5 441.0L347.4 452.7M344.6 448.4L347.4 452.7L342.4 451.5 M354.4 441.6L370.1 452.1M367.4 448.1L370.1 452.1L365.4 451.1 M377.3 441.3L393.7 452.4M390.9 448.3L393.7 452.4L388.8 451.3 M399.6 442.7L417.8 451.0M414.4 447.4L417.8 451.0L412.8 450.8 M422.6 443.3L441.3 450.4M437.6 447.0L441.3 450.4L436.3 450.5 M445.6 443.5L464.8 450.2M461.0 446.9L464.8 450.2L459.7 450.5 M468.5 443.1L488.5 450.6M484.6 447.0L488.5 450.6L483.2 450.8 M490.4 441.6L513.0 452.1M508.9 447.7L513.0 452.1L507.0 451.8 M513.3 441.8L536.7 451.9M532.5 447.6L536.7 451.9L530.7 451.7 M536.3 442.0L560.2 451.7M555.8 447.5L560.2 451.7L554.2 451.7 M559.7 442.6L583.2 451.1M578.7 447.1L583.2 451.1L577.2 451.3 M582.7 444.0L606.7 449.7M601.9 446.3L606.7 449.7L600.9 450.6 M606.4 444.4L629.6 449.3M624.8 446.1L629.6 449.3L623.9 450.3 M629.8 444.8L652.6 448.9M647.9 445.9L652.6 448.9L647.1 450.1 M653.2 444.9L675.7 448.8M671.0 445.9L675.7 448.8L670.3 450.0 M676.5 444.8L698.9 448.9M694.2 445.9L698.9 448.9L693.5 450.0 M163.5 465.4L165.7 467.4M164.8 465.5L165.7 467.4L163.7 466.7 M186.7 464.8L189.0 468.0M188.5 465.9L189.0 468.0L187.1 466.8 M209.1 464.2L213.1 468.6M212.3 466.5L213.1 468.6L211.1 467.6 M231.2 463.9L237.5 468.9M236.2 466.6L237.5 468.9L235.0 468.2 M252.8 464.3L262.4 468.5M260.2 466.3L262.4 468.5L259.3 468.4 M275.2 463.4L286.5 469.4M284.2 466.6L286.5 469.4L283.0 469.0 M297.7 462.5L310.5 470.3M308.1 467.1L310.5 470.3L306.6 469.6 M319.5 461.1L335.2 471.7M332.5 467.7L335.2 471.7L330.5 470.7 M341.8 460.1L359.4 472.7M356.6 468.2L359.4 472.7L354.2 471.5 M365.8 460.2L381.9 472.6M379.3 468.2L381.9 472.6L377.0 471.2 M388.6 461.4L405.6 471.4M402.6 467.4L405.6 471.4L400.7 470.7 M410.9 462.9L429.8 469.9M426.1 466.5L429.8 469.9L424.8 470.1 M434.1 463.1L453.1 469.7M449.3 466.4L453.1 469.7L448.1 469.9 M457.1 463.1L476.6 469.7M472.7 466.3L476.6 469.7L471.5 470.0 M480.2 462.9L500.0 469.9M496.1 466.5L500.0 469.9L494.8 470.1 M502.4 461.9L524.3 470.9M520.2 466.9L524.3 470.9L518.6 470.8 M525.3 462.1L547.9 470.7M543.6 466.8L547.9 470.7L542.0 470.8 M549.5 463.3L570.2 469.5M566.1 466.2L570.2 469.5L564.9 470.0 M571.7 463.7L594.5 469.1M589.9 465.8L594.5 469.1L588.9 470.0 M593.6 463.7L619.1 469.1M614.1 465.8L619.1 469.1L613.2 470.2 M616.9 464.1L642.4 468.6M637.3 465.5L642.4 468.6L636.5 469.9 M640.4 465.1L665.3 467.7M660.0 464.9L665.3 467.7L659.6 469.3 M664.4 464.7L687.8 468.1M682.9 465.2L687.8 468.1L682.2 469.5 M152.3 485.8L153.6 486.1M151.8 484.9L153.6 486.1L151.5 486.5 M177.2 485.9L175.2 486.0M177.3 486.8L175.2 486.0L177.3 485.1 M199.5 484.5L199.5 487.5M200.3 485.4L199.5 487.5L198.7 485.4 M219.5 484.5L226.0 487.5M224.3 485.7L226.0 487.5L223.5 487.3 M243.3 485.1L248.6 486.8M246.9 485.4L248.6 486.8L246.5 487.0 M265.0 483.7L273.5 488.2M271.6 486.0L273.5 488.2L270.6 487.9 M287.2 480.7L297.7 491.2M296.2 487.5L297.7 491.2L294.1 489.6 M307.7 481.2L323.7 490.7M320.9 486.9L323.7 490.7L319.1 490.0 M331.0 480.9L347.0 491.0M344.2 487.1L347.0 491.0L342.3 490.2 M354.0 480.0L370.5 491.9M367.8 487.6L370.5 491.9L365.6 490.7 M377.4 480.4L393.5 491.5M390.8 487.4L393.5 491.5L388.8 490.4 M401.0 480.0L416.5 492.0M414.0 487.7L416.5 492.0L411.7 490.6 M423.0 481.2L441.0 490.7M437.7 486.8L441.0 490.7L435.9 490.2 M445.7 481.5L464.7 490.4M461.2 486.6L464.7 490.4L459.5 490.1 M469.1 483.0L487.8 488.9M484.0 485.7L487.8 488.9L482.9 489.3 M492.2 482.9L511.3 489.0M507.4 485.8L511.3 489.0L506.3 489.4 M514.8 482.4L535.1 489.5M531.2 486.0L535.1 489.5L529.8 489.8 M538.3 483.1L558.2 488.8M554.1 485.7L558.2 488.8L553.0 489.4 M562.2 483.5L580.7 488.5M576.9 485.5L580.7 488.5L575.9 489.0 M583.6 483.3L605.8 488.6M601.3 485.4L605.8 488.6L600.3 489.4 M607.2 483.5L628.7 488.4M624.3 485.3L628.7 488.4L623.4 489.3 M630.5 483.9L652.0 488.0M647.4 485.1L652.0 488.0L646.7 489.0 M653.2 484.3L675.7 487.6M670.9 484.8L675.7 487.6L670.3 488.9 M676.8 484.7L698.7 487.2M693.9 484.6L698.7 487.2L693.5 488.6 M162.6 505.2L166.6 505.8M164.7 504.7L166.6 505.8L164.5 506.3 M187.8 506.5L187.8 504.5M187.0 506.5L187.8 504.5L188.7 506.5 M212.1 505.5L210.1 505.5M212.1 506.3L210.1 505.5L212.1 504.7 M233.2 505.7L235.5 505.3M233.3 504.9L235.5 505.3L233.7 506.5 M256.4 506.2L258.9 504.8M256.7 505.1L258.9 504.8L257.5 506.5 M276.4 504.0L285.4 507.0M283.1 505.1L285.4 507.0L282.5 507.2 M298.8 506.5L309.4 504.5M306.3 503.9L309.4 504.5L306.7 506.2 M321.3 502.9L333.4 508.1M330.8 505.5L333.4 508.1L329.8 508.0 M343.9 501.9L357.3 509.1M354.7 506.0L357.3 509.1L353.3 508.7 M366.3 501.0L381.4 510.0M378.7 506.4L381.4 510.0L376.9 509.3 M389.3 501.2L404.9 509.8M402.0 506.2L404.9 509.8L400.4 509.2 M412.8 502.5L427.9 508.5M424.8 505.6L427.9 508.5L423.6 508.5 M436.1 504.2L451.1 506.8M447.7 504.6L451.1 506.8L447.2 507.6 M457.4 504.2L476.3 506.8M472.1 504.4L476.3 506.8L471.7 508.0 M481.3 503.5L498.9 507.5M495.1 504.9L498.9 507.5L494.3 508.2 M504.9 503.2L521.8 507.8M518.2 505.1L521.8 507.8L517.3 508.3 M526.9 502.8L546.3 508.2M542.3 505.2L546.3 508.2L541.3 508.8 M550.1 502.9L569.6 508.1M565.6 505.1L569.6 508.1L564.6 508.7 M572.7 502.8L593.5 508.2M589.3 505.0L593.5 508.2L588.3 508.9 M595.4 502.5L617.3 508.5M612.9 505.1L617.3 508.5L611.8 509.1 M618.9 503.0L640.3 508.0M635.9 504.9L640.3 508.0L635.0 508.8 M642.3 503.8L663.4 507.2M658.9 504.5L663.4 507.2L658.2 508.4 M665.8 504.5L686.4 506.5M681.9 504.1L686.4 506.5L681.5 507.9 M152.4 525.4L153.5 524.7M151.4 525.1L153.5 524.7L152.3 526.5 M177.2 525.5L175.2 524.5M176.7 526.2L175.2 524.5L177.4 524.7 M199.5 526.5L199.5 523.5M198.7 525.6L199.5 523.5L200.3 525.6 M221.7 526.1L223.7 524.0M221.7 524.9L223.7 524.0L222.9 526.1 M244.6 526.4L247.4 523.7M245.3 524.5L247.4 523.7L246.5 525.7 M266.5 527.5L272.0 522.5M269.6 523.4L272.0 522.5L270.9 524.8 M288.2 522.8L296.7 527.3M294.8 525.1L296.7 527.3L293.8 527.0 M310.7 522.8L320.7 527.3M318.5 525.0L320.7 527.3L317.5 527.2 M333.9 523.2L344.1 526.9M341.7 524.8L344.1 526.9L340.9 527.0 M356.8 523.3L367.7 526.8M365.1 524.7L367.7 526.8L364.4 527.0 M378.6 522.4L392.4 527.7M389.5 525.0L392.4 527.7L388.4 527.8 M401.0 521.9L416.5 528.2M413.3 525.2L416.5 528.2L412.1 528.2 M424.2 522.7L439.7 527.4M436.4 524.7L439.7 527.4L435.5 527.8 M447.2 523.1L463.2 527.0M459.7 524.5L463.2 527.0L459.0 527.6 M470.7 523.2L486.3 526.9M482.8 524.5L486.3 526.9L482.1 527.5 M494.2 523.0L509.3 527.1M506.0 524.6L509.3 527.1L505.2 527.6 M517.1 522.9L532.8 527.2M529.4 524.6L532.8 527.2L528.6 527.7 M539.2 522.6L557.3 527.5M553.5 524.6L557.3 527.5L552.6 528.1 M561.7 522.6L581.3 527.5M577.2 524.5L581.3 527.5L576.3 528.2 M584.7 522.7L604.8 527.4M600.6 524.5L604.8 527.4L599.7 528.2 M608.4 523.4L627.6 526.7M623.4 524.1L627.6 526.7L622.8 527.8 M631.6 524.4L650.8 525.7M646.5 523.6L650.8 525.7L646.2 527.2 M655.3 525.5L673.6 524.6M669.2 523.0L673.6 524.6L669.4 526.5 M679.0 525.9L696.5 524.2M692.1 522.9L696.5 524.2L692.5 526.3 M164.0 545.9L165.2 543.3M163.6 544.8L165.2 543.3L165.1 545.5 M186.1 545.1L189.6 544.1M187.4 543.9L189.6 544.1L187.9 545.5 M209.6 545.4L212.6 543.9M210.4 544.0L212.6 543.9L211.1 545.5 M233.8 546.4L234.9 542.8M233.5 544.6L234.9 542.8L235.1 545.0 M255.9 546.5L259.3 542.7M257.3 543.7L259.3 542.7L258.6 544.7 M277.2 544.4L284.5 544.8M282.3 543.8L284.5 544.8L282.2 545.6 M300.3 542.9L307.9 546.3M306.0 544.4L307.9 546.3L305.2 546.2 M322.6 542.1L332.1 547.1M330.1 544.7L332.1 547.1L329.0 546.8 M345.1 542.4L356.1 546.8M353.7 544.5L356.1 546.8L352.7 546.8 M368.7 545.0L379.0 544.2M376.1 543.3L379.0 544.2L376.2 545.6 M390.7 543.5L403.5 545.7M400.4 543.8L403.5 545.7L400.0 546.5 M413.0 542.6L427.7 546.6M424.5 544.2L427.7 546.6L423.7 547.1 M435.9 541.9L451.3 547.3M448.1 544.5L451.3 547.3L447.1 547.5 M459.4 542.6L474.3 546.6M471.1 544.1L474.3 546.6L470.3 547.1 M482.8 542.4L497.4 546.8M494.2 544.3L497.4 546.8L493.3 547.2 M505.9 542.4L520.8 546.8M517.6 544.3L520.8 546.8L516.7 547.2 M529.0 542.4L544.2 546.8M541.0 544.2L544.2 546.8L540.1 547.3 M551.4 542.3L568.3 546.9M564.7 544.1L568.3 546.9L563.8 547.4 M574.9 542.8L591.3 546.4M587.7 543.9L591.3 546.4L587.0 547.1 M598.6 543.3L614.1 545.9M610.6 543.7L614.1 545.9L610.1 546.8 M621.4 544.1L637.8 545.1M634.0 543.3L637.8 545.1L633.8 546.5 M643.6 546.3L662.1 542.9M657.4 541.9L662.1 542.9L658.1 545.4 M667.6 546.8L684.6 542.4M680.1 541.8L684.6 542.4L681.0 545.1 M152.2 566.5L153.7 561.8M152.3 563.5L153.7 561.8L153.9 564.0 M175.5 566.1L177.0 562.1M175.5 563.8L177.0 562.1L177.0 564.3 M197.5 569.4L201.5 558.9M199.3 561.3L201.5 558.9L201.5 562.1 M223.5 568.1L222.0 560.1M221.5 562.7L222.0 560.1L223.4 562.4 M244.5 566.9L247.5 561.4M245.7 562.8L247.5 561.4L247.2 563.6 M266.9 566.4L271.6 561.9M269.4 562.8L271.6 561.9L270.6 564.0 M288.5 565.9L296.4 562.4M293.7 562.5L296.4 562.4L294.5 564.4 M311.5 566.6L320.0 561.6M317.0 562.1L320.0 561.6L318.2 564.0 M335.0 565.4L343.0 562.9M340.3 562.7L343.0 562.9L340.9 564.6 M357.2 566.6L367.2 561.6M364.0 561.9L367.2 561.6L365.1 564.1 M380.5 565.5L390.5 562.8M387.4 562.4L390.5 562.8L388.0 564.7 M402.6 563.7L414.8 564.6M411.8 563.1L414.8 564.6L411.6 565.7 M425.7 563.5L438.2 564.8M435.1 563.2L438.2 564.8L434.8 565.8 M449.2 563.6L461.2 564.7M458.2 563.1L461.2 564.7L458.0 565.7 M471.5 563.1L485.5 565.2M482.2 563.2L485.5 565.2L481.8 566.1 M494.0 561.4L509.5 566.9M506.3 564.1L509.5 566.9L505.2 567.1 M517.6 561.9L532.3 566.4M529.2 563.8L532.3 566.4L528.3 566.7 M540.8 562.1L555.6 566.2M552.4 563.7L555.6 566.2L551.6 566.7 M563.9 562.1L579.1 566.2M575.8 563.7L579.1 566.2L574.9 566.7 M587.8 562.4L601.6 565.9M598.5 563.6L601.6 565.9L597.8 566.4 M611.5 562.2L624.5 566.1M621.6 563.8L624.5 566.1L620.8 566.5 M635.2 561.9L647.3 566.4M644.6 564.0L647.3 566.4L643.7 566.5 M656.0 562.4L673.0 565.9M669.2 563.4L673.0 565.9L668.6 566.7 M679.6 563.8L695.9 564.5M692.0 562.7L695.9 564.5L691.9 565.9 M164.2 587.5L165.0 579.9M163.8 582.1L165.0 579.9L165.7 582.4 M188.1 589.7L187.6 577.7M186.5 580.9L187.6 577.7L189.0 580.8 M210.8 587.7L211.3 579.7M210.2 582.0L211.3 579.7L212.2 582.2 M231.8 587.0L236.8 580.5M234.6 581.8L236.8 580.5L236.1 583.0 M255.8 586.8L259.4 580.6M257.5 582.1L259.4 580.6L259.0 583.0 M277.4 587.7L284.3 579.7M281.6 581.1L284.3 579.7L283.3 582.7 M300.6 589.4L307.6 578.0M304.6 580.2L307.6 578.0L307.0 581.6 M322.6 588.2L332.1 579.2M328.7 580.5L332.1 579.2L330.6 582.5 M345.9 584.0L355.3 583.4M352.6 582.5L355.3 583.4L352.7 584.7 M369.0 585.1L378.7 582.3M375.7 582.0L378.7 582.3L376.3 584.2 M391.9 584.4L402.3 583.0M399.3 582.2L402.3 583.0L399.6 584.5 M415.1 584.5L425.6 582.9M422.6 582.2L425.6 582.9L422.9 584.5 M439.1 585.4L448.1 582.0M445.2 581.9L448.1 582.0L446.0 584.0 M460.4 582.9L473.3 584.5M470.2 582.7L473.3 584.5L469.9 585.4 M483.8 582.2L496.4 585.2M493.4 583.1L496.4 585.2L492.8 585.7 M506.3 581.8L520.4 585.6M517.3 583.3L520.4 585.6L516.5 586.1 M529.6 581.8L543.6 585.6M540.5 583.3L543.6 585.6L539.8 586.1 M553.0 581.8L566.7 585.6M563.7 583.3L566.7 585.6L562.9 586.1 M576.2 581.9L590.0 585.5M586.9 583.2L590.0 585.5L586.2 586.0 M599.8 581.7L612.9 585.7M610.0 583.3L612.9 585.7L609.2 586.0 M623.3 581.5L635.9 585.9M633.1 583.5L635.9 585.9L632.2 586.1 M646.3 582.2L659.4 585.2M656.4 583.1L659.4 585.2L655.7 585.8 M668.1 582.5L684.1 584.9M680.5 582.8L684.1 584.9L680.0 585.9 M152.6 607.1L153.4 599.4M152.2 601.6L153.4 599.4L154.1 601.9 M176.0 608.1L176.5 598.4M175.2 601.1L176.5 598.4L177.4 601.2 M199.1 607.8L199.9 598.7M198.6 601.2L199.9 598.7L200.7 601.4 M221.6 607.0L223.9 599.5M222.3 601.5L223.9 599.5L224.1 602.1 M244.2 606.8L247.8 599.7M245.8 601.4L247.8 599.7L247.5 602.3 M266.7 607.0L271.8 599.5M269.4 601.1L271.8 599.5L271.2 602.3 M288.8 607.8L296.2 598.7M293.2 600.3L296.2 598.7L295.2 601.9 M311.5 607.2L320.0 599.3M316.9 600.5L320.0 599.3L318.6 602.3 M334.4 605.4L343.6 601.1M340.6 601.3L343.6 601.1L341.5 603.3 M357.5 604.4L366.9 602.1M364.0 601.7L366.9 602.1L364.5 603.8 M380.7 604.6L390.3 601.9M387.3 601.6L390.3 601.9L387.9 603.7 M403.4 603.9L414.0 602.6M411.0 601.8L414.0 602.6L411.3 604.1 M426.8 604.0L437.2 602.5M434.2 601.7L437.2 602.5L434.5 604.0 M449.3 603.1L461.1 603.4M458.0 602.0L461.1 603.4L458.0 604.6 M472.1 602.2L484.9 604.3M481.8 602.4L484.9 604.3L481.4 605.1 M495.2 601.8L508.3 604.7M505.2 602.6L508.3 604.7L504.6 605.3 M518.2 601.7L531.8 604.8M528.7 602.7L531.8 604.8L528.0 605.4 M541.3 601.4L555.2 605.1M552.1 602.8L555.2 605.1L551.3 605.6 M564.7 601.5L578.3 605.0M575.2 602.7L578.3 605.0L574.5 605.5 M588.0 601.5L601.4 605.0M598.4 602.8L601.4 605.0L597.7 605.5 M611.4 601.3L624.5 605.2M621.6 602.9L624.5 605.2L620.8 605.6 M634.5 601.6L647.9 604.9M644.9 602.7L647.9 604.9L644.2 605.5 M657.1 601.9L671.9 604.6M668.5 602.4L671.9 604.6L668.0 605.4 M680.0 602.1L695.5 604.4M691.9 602.3L695.5 604.4L691.4 605.4" stroke="#000" stroke-width="0.8"/>
<path d="M184.8 72.0 L180.7 167.5 M153.8 166.5 L220.0 169.0 L300.0 171.5 L420.0 172.5 L500.0 172.0 L571.3 171.0 M153.8 199.3 L220.0 202.0 L286.3 203.7 M286.3 203.7 L284.5 330.0 M284.5 330.0 L286.5 332.0 L292.0 335.0 L296.0 338.5 L298.7 341.3 L303.0 343.0 L308.7 343.0 L313.0 341.0 L317.0 340.5 L320.5 342.0 L323.7 343.0 L326.0 348.0 L328.7 354.7 L332.0 357.0 L337.0 358.0 L345.3 359.7 L353.7 361.3 L360.3 359.7 L367.0 363.0 L373.7 363.0 L380.3 361.3 L387.0 363.0 L390.3 371.3 L393.7 374.7 L398.7 379.7 L403.7 378.0 L410.3 373.0 L415.0 374.0 L420.0 377.0 L424.0 378.0 L429.0 379.0 L435.0 376.0 L437.0 379.0 L436.0 384.0 L439.0 388.0 L442.0 386.0 L443.0 381.0 L447.0 374.0 L450.0 374.0 L453.0 377.0 L457.0 378.0 L460.0 382.0 L463.0 379.0 L467.0 377.0 L470.0 374.0 L470.0 383.0 L473.0 386.0 L478.0 385.0 L482.0 387.0 L485.0 390.0 L488.0 387.0 L492.0 384.0 L496.0 381.0 L500.0 380.0 L505.0 377.5 L510.0 376.2 L517.5 375.0 L520.0 376.0 L525.0 374.0 L530.0 377.0 L543.0 372.0 L550.0 374.0 L554.0 377.0 L558.0 379.0 L562.0 383.0 L566.0 385.5 L570.0 384.5 L574.0 386.0 L578.0 387.0 L583.7 388.5 L585.0 392.0 L590.0 395.5 L597.5 396.0 L605.0 397.0 L608.8 401.2 M570.0 72.0 L571.3 171.0 L572.0 205.0 L583.7 271.7 L584.5 338.0 L583.7 390.0 M571.8 200.3 L620.0 201.5 L684.8 202.0 M608.8 401.2 L609.5 430.0 L611.2 497.7 L618.7 504.3 L625.3 512.7 L626.2 526.0 L632.0 532.7 L635.3 537.7 L637.0 544.3 L640.3 549.3 L642.8 557.7 L643.7 564.3 L642.8 569.3 L640.3 577.7 L637.0 587.7 L634.5 594.3 L635.3 603.2 M609.5 432.0 L650.0 431.0 L684.8 429.5" stroke="#000" stroke-width="1.1"/>
<path d="M447 373 L450 374 L453 377 L457 378 L460 382 L463 379 L467 377 L470 373 L469 369 L472 366 L470 365 L467 368 L465 367" stroke="#000" stroke-width="2.6"/>
<path d="M153.8 100.5 L167.8 100.5 M670.8 99.5 L684.8 99.5 M153.8 232.5 L167.8 232.5 M670.8 231.5 L684.8 231.5 M153.8 364.4 L167.8 364.4 M670.8 363.4 L684.8 363.4 M153.8 496.2 L167.8 496.2 M670.8 495.2 L684.8 495.2 M163.3 603.2 L163.3 589.2 M277.3 603.2 L277.3 589.2 M391.0 603.2 L391.0 589.2 M505.0 603.2 L505.0 589.2 M618.7 603.2 L618.7 589.2 M186.0 72.2 L186.0 86.2 M290.0 72.2 L290.0 86.2 M393.7 72.2 L393.7 86.2 M496.7 72.2 L496.7 86.2 M600.3 72.2 L600.3 86.2" stroke="#000" stroke-width="1.3"/>
<path d="M421.3 285.5 L423.0 290.2 L428.0 290.3 L424.1 293.4 L425.4 298.2 L421.3 295.4 L417.2 298.2 L418.5 293.4 L414.6 290.3 L419.6 290.2Z" stroke="#000" stroke-width="1.1"/>
</g>
<rect x="153.75" y="72.25" width="531.0" height="531.0" fill="none" stroke="#000" stroke-width="1.5"/>
<rect x="658.5" y="72.5" width="29" height="38.7" fill="#fff" stroke="#000" stroke-width="1"/>
<text x="672.9" y="86.9" font-size="13.6" text-anchor="middle">8</text>
<path d="M661.8 97.3 L683.8 97.3 M678.6 95.2 L683.8 97.3 L678.6 99.4" fill="none" stroke="#000" stroke-width="0.9"/>
<text x="302.25" y="26.60" font-size="14.71" font-weight="bold" textLength="230.90" lengthAdjust="spacingAndGlyphs">2022/5/26/22UTC (16LT), Thursday</text>
<text x="303.30" y="42.40" font-size="14.57" font-weight="bold" textLength="84.95" lengthAdjust="spacingAndGlyphs">FV3_GFS025</text>
<text x="152.40" y="64.00" font-size="23.67" font-weight="normal" textLength="532.94" lengthAdjust="spacingAndGlyphs">instantaneous surface latent heat net flux W/m**2</text>
<text x="112.50" y="237.50" font-size="14.29" font-weight="normal" textLength="32.40" lengthAdjust="spacingAndGlyphs">36°N</text>
<text x="112.50" y="501.00" font-size="13.57" font-weight="normal" textLength="31.84" lengthAdjust="spacingAndGlyphs">32°N</text>
<text x="140.90" y="624.40" font-size="14.29" font-weight="normal" textLength="43.50" lengthAdjust="spacingAndGlyphs">102°W</text>
<text x="373.00" y="624.60" font-size="14.71" font-weight="normal" textLength="35.12" lengthAdjust="spacingAndGlyphs">98°W</text>
<text x="600.70" y="624.30" font-size="14.29" font-weight="normal" textLength="34.37" lengthAdjust="spacingAndGlyphs">94°W</text>
<text x="216.30" y="619.50" font-size="14.33" font-weight="normal" textLength="123.77" lengthAdjust="spacingAndGlyphs">Min= 0 Max= 409.8</text>
<rect x="162.00" y="627.50" width="30.30" height="14.50" fill="#0000f5"/>
<rect x="192.30" y="627.50" width="30.30" height="14.50" fill="#0555ff"/>
<rect x="222.60" y="627.50" width="30.30" height="14.50" fill="#00beff"/>
<rect x="252.90" y="627.50" width="30.30" height="14.50" fill="#00f0dc"/>
<rect x="283.20" y="627.50" width="30.30" height="14.50" fill="#00d78c"/>
<rect x="313.50" y="627.50" width="30.30" height="14.50" fill="#00b92d"/>
<rect x="343.80" y="627.50" width="30.30" height="14.50" fill="#46be00"/>
<rect x="374.10" y="627.50" width="30.30" height="14.50" fill="#a0dc0a"/>
<rect x="404.40" y="627.50" width="30.30" height="14.50" fill="#ffff00"/>
<rect x="434.70" y="627.50" width="30.30" height="14.50" fill="#ffd700"/>
<rect x="465.00" y="627.50" width="30.30" height="14.50" fill="#ffb400"/>
<rect x="495.30" y="627.50" width="30.30" height="14.50" fill="#ff8c00"/>
<rect x="525.60" y="627.50" width="30.30" height="14.50" fill="#ff5a0a"/>
<rect x="555.90" y="627.50" width="30.30" height="14.50" fill="#ff140a"/>
<rect x="586.20" y="627.50" width="30.30" height="14.50" fill="#d70028"/>
<rect x="616.50" y="627.50" width="30.30" height="14.50" fill="#9b0055"/>
<rect x="646.80" y="627.50" width="30.30" height="14.50" fill="#5a0096"/>
<line x1="192.30" y1="627.50" x2="192.30" y2="642.00" stroke="#000" stroke-width="1"/>
<line x1="222.60" y1="627.50" x2="222.60" y2="642.00" stroke="#000" stroke-width="1"/>
<line x1="252.90" y1="627.50" x2="252.90" y2="642.00" stroke="#000" stroke-width="1"/>
<line x1="283.20" y1="627.50" x2="283.20" y2="642.00" stroke="#000" stroke-width="1"/>
<line x1="313.50" y1="627.50" x2="313.50" y2="642.00" stroke="#000" stroke-width="1"/>
<line x1="343.80" y1="627.50" x2="343.80" y2="642.00" stroke="#000" stroke-width="1"/>
<line x1="374.10" y1="627.50" x2="374.10" y2="642.00" stroke="#000" stroke-width="1"/>
<line x1="404.40" y1="627.50" x2="404.40" y2="642.00" stroke="#000" stroke-width="1"/>
<line x1="434.70" y1="627.50" x2="434.70" y2="642.00" stroke="#000" stroke-width="1"/>
<line x1="465.00" y1="627.50" x2="465.00" y2="642.00" stroke="#000" stroke-width="1"/>
<line x1="495.30" y1="627.50" x2="495.30" y2="642.00" stroke="#000" stroke-width="1"/>
<line x1="525.60" y1="627.50" x2="525.60" y2="642.00" stroke="#000" stroke-width="1"/>
<line x1="555.90" y1="627.50" x2="555.90" y2="642.00" stroke="#000" stroke-width="1"/>
<line x1="586.20" y1="627.50" x2="586.20" y2="642.00" stroke="#000" stroke-width="1"/>
<line x1="616.50" y1="627.50" x2="616.50" y2="642.00" stroke="#000" stroke-width="1"/>
<line x1="646.80" y1="627.50" x2="646.80" y2="642.00" stroke="#000" stroke-width="1"/>
<rect x="162.00" y="627.50" width="515.10" height="14.50" fill="none" stroke="#444" stroke-width="0.8"/>
<text x="192.30" y="656.9" text-anchor="middle" font-size="15">0</text>
<text x="252.90" y="656.9" text-anchor="middle" font-size="15">40</text>
<text x="313.50" y="656.9" text-anchor="middle" font-size="15">80</text>
<text x="374.10" y="656.9" text-anchor="middle" font-size="15">120</text>
<text x="434.70" y="656.9" text-anchor="middle" font-size="15">160</text>
<text x="495.30" y="656.9" text-anchor="middle" font-size="15">200</text>
<text x="555.90" y="656.9" text-anchor="middle" font-size="15">240</text>
<text x="616.50" y="656.9" text-anchor="middle" font-size="15">280</text>
</svg>
</body></html>
